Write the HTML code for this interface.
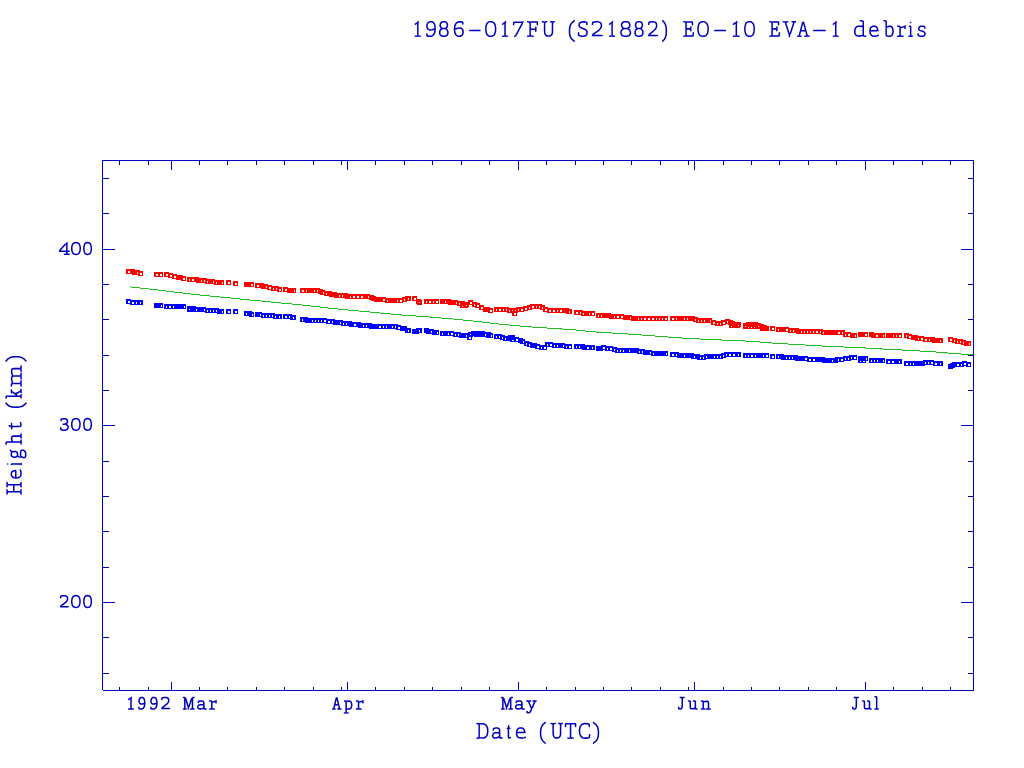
<!DOCTYPE html>
<html><head><meta charset="utf-8"><style>
html,body{margin:0;padding:0;background:#fff;}
svg{display:block;}
</style></head><body>
<svg width="1024" height="768" viewBox="0 0 1024 768">
<rect width="1024" height="768" fill="#fff"/>
<g shape-rendering="crispEdges">
<rect x="102" y="160" width="1" height="530" fill="#0000c0"/>
<rect x="973" y="160" width="1" height="531" fill="#0000c0"/>
<rect x="102" y="160" width="872" height="1" fill="#0000c0"/>
<rect x="103" y="690" width="871" height="1" fill="#0000c0"/>
<rect x="119" y="687" width="1" height="3" fill="#0000c0"/>
<rect x="119" y="161" width="1" height="4" fill="#0000c0"/>
<rect x="148" y="687" width="1" height="3" fill="#0000c0"/>
<rect x="148" y="161" width="1" height="4" fill="#0000c0"/>
<rect x="171" y="682" width="1" height="8" fill="#0000c0"/>
<rect x="171" y="161" width="1" height="9" fill="#0000c0"/>
<rect x="199" y="687" width="1" height="3" fill="#0000c0"/>
<rect x="199" y="161" width="1" height="4" fill="#0000c0"/>
<rect x="227" y="687" width="1" height="3" fill="#0000c0"/>
<rect x="227" y="161" width="1" height="4" fill="#0000c0"/>
<rect x="256" y="687" width="1" height="3" fill="#0000c0"/>
<rect x="256" y="161" width="1" height="4" fill="#0000c0"/>
<rect x="284" y="687" width="1" height="3" fill="#0000c0"/>
<rect x="284" y="161" width="1" height="4" fill="#0000c0"/>
<rect x="313" y="687" width="1" height="3" fill="#0000c0"/>
<rect x="313" y="161" width="1" height="4" fill="#0000c0"/>
<rect x="341" y="687" width="1" height="3" fill="#0000c0"/>
<rect x="341" y="161" width="1" height="4" fill="#0000c0"/>
<rect x="347" y="682" width="1" height="8" fill="#0000c0"/>
<rect x="347" y="161" width="1" height="9" fill="#0000c0"/>
<rect x="375" y="687" width="1" height="3" fill="#0000c0"/>
<rect x="375" y="161" width="1" height="4" fill="#0000c0"/>
<rect x="404" y="687" width="1" height="3" fill="#0000c0"/>
<rect x="404" y="161" width="1" height="4" fill="#0000c0"/>
<rect x="432" y="687" width="1" height="3" fill="#0000c0"/>
<rect x="432" y="161" width="1" height="4" fill="#0000c0"/>
<rect x="461" y="687" width="1" height="3" fill="#0000c0"/>
<rect x="461" y="161" width="1" height="4" fill="#0000c0"/>
<rect x="489" y="687" width="1" height="3" fill="#0000c0"/>
<rect x="489" y="161" width="1" height="4" fill="#0000c0"/>
<rect x="518" y="682" width="1" height="8" fill="#0000c0"/>
<rect x="518" y="161" width="1" height="9" fill="#0000c0"/>
<rect x="546" y="687" width="1" height="3" fill="#0000c0"/>
<rect x="546" y="161" width="1" height="4" fill="#0000c0"/>
<rect x="575" y="687" width="1" height="3" fill="#0000c0"/>
<rect x="575" y="161" width="1" height="4" fill="#0000c0"/>
<rect x="603" y="687" width="1" height="3" fill="#0000c0"/>
<rect x="603" y="161" width="1" height="4" fill="#0000c0"/>
<rect x="631" y="687" width="1" height="3" fill="#0000c0"/>
<rect x="631" y="161" width="1" height="4" fill="#0000c0"/>
<rect x="660" y="687" width="1" height="3" fill="#0000c0"/>
<rect x="660" y="161" width="1" height="4" fill="#0000c0"/>
<rect x="688" y="687" width="1" height="3" fill="#0000c0"/>
<rect x="688" y="161" width="1" height="4" fill="#0000c0"/>
<rect x="694" y="682" width="1" height="8" fill="#0000c0"/>
<rect x="694" y="161" width="1" height="9" fill="#0000c0"/>
<rect x="723" y="687" width="1" height="3" fill="#0000c0"/>
<rect x="723" y="161" width="1" height="4" fill="#0000c0"/>
<rect x="751" y="687" width="1" height="3" fill="#0000c0"/>
<rect x="751" y="161" width="1" height="4" fill="#0000c0"/>
<rect x="779" y="687" width="1" height="3" fill="#0000c0"/>
<rect x="779" y="161" width="1" height="4" fill="#0000c0"/>
<rect x="808" y="687" width="1" height="3" fill="#0000c0"/>
<rect x="808" y="161" width="1" height="4" fill="#0000c0"/>
<rect x="836" y="687" width="1" height="3" fill="#0000c0"/>
<rect x="836" y="161" width="1" height="4" fill="#0000c0"/>
<rect x="865" y="682" width="1" height="8" fill="#0000c0"/>
<rect x="865" y="161" width="1" height="9" fill="#0000c0"/>
<rect x="893" y="687" width="1" height="3" fill="#0000c0"/>
<rect x="893" y="161" width="1" height="4" fill="#0000c0"/>
<rect x="922" y="687" width="1" height="3" fill="#0000c0"/>
<rect x="922" y="161" width="1" height="4" fill="#0000c0"/>
<rect x="950" y="687" width="1" height="3" fill="#0000c0"/>
<rect x="950" y="161" width="1" height="4" fill="#0000c0"/>
<rect x="103" y="673" width="6" height="1" fill="#0000c0"/>
<rect x="968" y="673" width="5" height="1" fill="#0000c0"/>
<rect x="103" y="637" width="6" height="1" fill="#0000c0"/>
<rect x="968" y="637" width="5" height="1" fill="#0000c0"/>
<rect x="103" y="602" width="12" height="1" fill="#0000c0"/>
<rect x="961" y="602" width="12" height="1" fill="#0000c0"/>
<rect x="103" y="567" width="6" height="1" fill="#0000c0"/>
<rect x="968" y="567" width="5" height="1" fill="#0000c0"/>
<rect x="103" y="531" width="6" height="1" fill="#0000c0"/>
<rect x="968" y="531" width="5" height="1" fill="#0000c0"/>
<rect x="103" y="496" width="6" height="1" fill="#0000c0"/>
<rect x="968" y="496" width="5" height="1" fill="#0000c0"/>
<rect x="103" y="461" width="6" height="1" fill="#0000c0"/>
<rect x="968" y="461" width="5" height="1" fill="#0000c0"/>
<rect x="103" y="425" width="12" height="1" fill="#0000c0"/>
<rect x="961" y="425" width="12" height="1" fill="#0000c0"/>
<rect x="103" y="390" width="6" height="1" fill="#0000c0"/>
<rect x="968" y="390" width="5" height="1" fill="#0000c0"/>
<rect x="103" y="355" width="6" height="1" fill="#0000c0"/>
<rect x="968" y="355" width="5" height="1" fill="#0000c0"/>
<rect x="103" y="319" width="6" height="1" fill="#0000c0"/>
<rect x="968" y="319" width="5" height="1" fill="#0000c0"/>
<rect x="103" y="284" width="6" height="1" fill="#0000c0"/>
<rect x="968" y="284" width="5" height="1" fill="#0000c0"/>
<rect x="103" y="249" width="12" height="1" fill="#0000c0"/>
<rect x="961" y="249" width="12" height="1" fill="#0000c0"/>
<rect x="103" y="213" width="6" height="1" fill="#0000c0"/>
<rect x="968" y="213" width="5" height="1" fill="#0000c0"/>
<rect x="103" y="178" width="6" height="1" fill="#0000c0"/>
<rect x="968" y="178" width="5" height="1" fill="#0000c0"/>
</g>
<g fill="#20c020" shape-rendering="crispEdges"><rect x="130" y="286" width="1" height="1"/><rect x="131" y="287" width="9" height="1"/><rect x="140" y="288" width="9" height="1"/><rect x="149" y="289" width="9" height="1"/><rect x="158" y="290" width="8" height="1"/><rect x="166" y="291" width="8" height="1"/><rect x="174" y="292" width="9" height="1"/><rect x="183" y="293" width="8" height="1"/><rect x="191" y="294" width="9" height="1"/><rect x="200" y="295" width="10" height="1"/><rect x="210" y="296" width="10" height="1"/><rect x="220" y="297" width="11" height="1"/><rect x="231" y="298" width="9" height="1"/><rect x="240" y="299" width="10" height="1"/><rect x="250" y="300" width="11" height="1"/><rect x="261" y="301" width="10" height="1"/><rect x="271" y="302" width="10" height="1"/><rect x="281" y="303" width="11" height="1"/><rect x="292" y="304" width="10" height="1"/><rect x="302" y="305" width="9" height="1"/><rect x="311" y="306" width="9" height="1"/><rect x="320" y="307" width="8" height="1"/><rect x="328" y="308" width="10" height="1"/><rect x="338" y="309" width="10" height="1"/><rect x="348" y="310" width="11" height="1"/><rect x="359" y="311" width="11" height="1"/><rect x="370" y="312" width="10" height="1"/><rect x="380" y="313" width="11" height="1"/><rect x="391" y="314" width="11" height="1"/><rect x="402" y="315" width="14" height="1"/><rect x="416" y="316" width="13" height="1"/><rect x="429" y="317" width="12" height="1"/><rect x="441" y="318" width="12" height="1"/><rect x="453" y="319" width="10" height="1"/><rect x="463" y="320" width="10" height="1"/><rect x="473" y="321" width="9" height="1"/><rect x="482" y="322" width="8" height="1"/><rect x="490" y="323" width="9" height="1"/><rect x="499" y="324" width="10" height="1"/><rect x="509" y="325" width="11" height="1"/><rect x="520" y="326" width="12" height="1"/><rect x="532" y="327" width="15" height="1"/><rect x="547" y="328" width="16" height="1"/><rect x="563" y="329" width="13" height="1"/><rect x="576" y="330" width="9" height="1"/><rect x="585" y="331" width="11" height="1"/><rect x="596" y="332" width="16" height="1"/><rect x="612" y="333" width="16" height="1"/><rect x="628" y="334" width="14" height="1"/><rect x="642" y="335" width="13" height="1"/><rect x="655" y="336" width="13" height="1"/><rect x="668" y="337" width="14" height="1"/><rect x="682" y="338" width="18" height="1"/><rect x="700" y="339" width="22" height="1"/><rect x="722" y="340" width="23" height="1"/><rect x="745" y="341" width="15" height="1"/><rect x="760" y="342" width="12" height="1"/><rect x="772" y="343" width="16" height="1"/><rect x="788" y="344" width="17" height="1"/><rect x="805" y="345" width="17" height="1"/><rect x="822" y="346" width="22" height="1"/><rect x="844" y="347" width="22" height="1"/><rect x="866" y="348" width="17" height="1"/><rect x="883" y="349" width="19" height="1"/><rect x="902" y="350" width="18" height="1"/><rect x="920" y="351" width="16" height="1"/><rect x="936" y="352" width="12" height="1"/><rect x="948" y="353" width="13" height="1"/><rect x="961" y="354" width="12" height="1"/></g>
<g shape-rendering="crispEdges">
<g fill="#ff0000" fill-rule="evenodd"><path d="M126,269h5v5h-5zM128,271v2h2v-2z"/><path d="M130,269h5v5h-5zM132,271v2h2v-2z"/><path d="M132,270h5v5h-5zM134,272v2h2v-2z"/><path d="M135,270h5v5h-5zM137,272v2h2v-2z"/><path d="M138,271h5v5h-5zM140,273v2h2v-2z"/><path d="M154,272h5v5h-5zM156,274v2h2v-2z"/><path d="M158,272h5v5h-5zM160,274v2h2v-2z"/><path d="M164,272h5v5h-5zM166,274v2h2v-2z"/><path d="M168,273h5v5h-5zM170,275v2h2v-2z"/><path d="M172,274h5v5h-5zM174,276v2h2v-2z"/><path d="M176,275h5v5h-5zM178,277v2h2v-2z"/><path d="M178,275h5v5h-5zM180,277v2h2v-2z"/><path d="M181,276h5v5h-5zM183,278v2h2v-2z"/><path d="M187,277h5v5h-5zM189,279v2h2v-2z"/><path d="M190,277h5v5h-5zM192,279v2h2v-2z"/><path d="M194,277h5v5h-5zM196,279v2h2v-2z"/><path d="M196,278h5v5h-5zM198,280v2h2v-2z"/><path d="M199,278h5v5h-5zM201,280v2h2v-2z"/><path d="M202,278h5v5h-5zM204,280v2h2v-2z"/><path d="M205,279h5v5h-5zM207,281v2h2v-2z"/><path d="M208,279h5v5h-5zM210,281v2h2v-2z"/><path d="M210,279h5v5h-5zM212,281v2h2v-2z"/><path d="M214,280h5v5h-5zM216,282v2h2v-2z"/><path d="M217,280h5v5h-5zM219,282v2h2v-2z"/><path d="M219,280h5v5h-5zM221,282v2h2v-2z"/><path d="M226,280h5v5h-5zM228,282v2h2v-2z"/><path d="M233,281h5v5h-5zM235,283v2h2v-2z"/><path d="M244,282h5v5h-5zM246,284v2h2v-2z"/><path d="M246,282h5v5h-5zM248,284v2h2v-2z"/><path d="M249,282h5v5h-5zM251,284v2h2v-2z"/><path d="M255,283h5v5h-5zM257,285v2h2v-2z"/><path d="M259,283h5v5h-5zM261,285v2h2v-2z"/><path d="M261,284h5v5h-5zM263,286v2h2v-2z"/><path d="M263,284h5v5h-5zM265,286v2h2v-2z"/><path d="M267,285h5v5h-5zM269,287v2h2v-2z"/><path d="M271,286h5v5h-5zM273,288v2h2v-2z"/><path d="M274,286h5v5h-5zM276,288v2h2v-2z"/><path d="M277,287h5v5h-5zM279,289v2h2v-2z"/><path d="M283,287h5v5h-5zM285,289v2h2v-2z"/><path d="M287,288h5v5h-5zM289,290v2h2v-2z"/><path d="M289,288h5v5h-5zM291,290v2h2v-2z"/><path d="M291,288h5v5h-5zM293,290v2h2v-2z"/><path d="M300,288h5v5h-5zM302,290v2h2v-2z"/><path d="M304,288h5v5h-5zM306,290v2h2v-2z"/><path d="M307,288h5v5h-5zM309,290v2h2v-2z"/><path d="M309,288h5v5h-5zM311,290v2h2v-2z"/><path d="M311,288h5v5h-5zM313,290v2h2v-2z"/><path d="M315,288h5v5h-5zM317,290v2h2v-2z"/><path d="M318,289h5v5h-5zM320,291v2h2v-2z"/><path d="M320,290h5v5h-5zM322,292v2h2v-2z"/><path d="M324,291h5v5h-5zM326,293v2h2v-2z"/><path d="M327,291h5v5h-5zM329,293v2h2v-2z"/><path d="M329,292h5v5h-5zM331,294v2h2v-2z"/><path d="M332,292h5v5h-5zM334,294v2h2v-2z"/><path d="M334,293h5v5h-5zM336,295v2h2v-2z"/><path d="M337,293h5v5h-5zM339,295v2h2v-2z"/><path d="M340,293h5v5h-5zM342,295v2h2v-2z"/><path d="M343,293h5v5h-5zM345,295v2h2v-2z"/><path d="M345,294h5v5h-5zM347,296v2h2v-2z"/><path d="M348,294h5v5h-5zM350,296v2h2v-2z"/><path d="M351,294h5v5h-5zM353,296v2h2v-2z"/><path d="M355,294h5v5h-5zM357,296v2h2v-2z"/><path d="M359,294h5v5h-5zM361,296v2h2v-2z"/><path d="M363,294h5v5h-5zM365,296v2h2v-2z"/><path d="M365,294h5v5h-5zM367,296v2h2v-2z"/><path d="M369,295h5v5h-5zM371,297v2h2v-2z"/><path d="M371,296h5v5h-5zM373,298v2h2v-2z"/><path d="M374,297h5v5h-5zM376,299v2h2v-2z"/><path d="M376,297h5v5h-5zM378,299v2h2v-2z"/><path d="M378,297h5v5h-5zM380,299v2h2v-2z"/><path d="M381,297h5v5h-5zM383,299v2h2v-2z"/><path d="M385,298h5v5h-5zM387,300v2h2v-2z"/><path d="M388,298h5v5h-5zM390,300v2h2v-2z"/><path d="M390,298h5v5h-5zM392,300v2h2v-2z"/><path d="M392,298h5v5h-5zM394,300v2h2v-2z"/><path d="M394,298h5v5h-5zM396,300v2h2v-2z"/><path d="M398,298h5v5h-5zM400,300v2h2v-2z"/><path d="M402,297h5v5h-5zM404,299v2h2v-2z"/><path d="M405,296h5v5h-5zM407,298v2h2v-2z"/><path d="M406,296h5v5h-5zM408,298v2h2v-2z"/><path d="M412,296h5v5h-5zM414,298v2h2v-2z"/><path d="M416,299h5v5h-5zM418,301v2h2v-2z"/><path d="M417,300h5v5h-5zM419,302v2h2v-2z"/><path d="M424,299h5v5h-5zM426,301v2h2v-2z"/><path d="M427,299h5v5h-5zM429,301v2h2v-2z"/><path d="M431,299h5v5h-5zM433,301v2h2v-2z"/><path d="M434,299h5v5h-5zM436,301v2h2v-2z"/><path d="M440,299h5v5h-5zM442,301v2h2v-2z"/><path d="M442,299h5v5h-5zM444,301v2h2v-2z"/><path d="M446,299h5v5h-5zM448,301v2h2v-2z"/><path d="M448,300h5v5h-5zM450,302v2h2v-2z"/><path d="M451,300h5v5h-5zM453,302v2h2v-2z"/><path d="M453,300h5v5h-5zM455,302v2h2v-2z"/><path d="M457,301h5v5h-5zM459,303v2h2v-2z"/><path d="M460,301h5v5h-5zM462,303v2h2v-2z"/><path d="M464,302h5v5h-5zM466,304v2h2v-2z"/><path d="M468,300h5v5h-5zM470,302v2h2v-2z"/><path d="M472,302h5v5h-5zM474,304v2h2v-2z"/><path d="M475,303h5v5h-5zM477,305v2h2v-2z"/><path d="M479,305h5v5h-5zM481,307v2h2v-2z"/><path d="M483,307h5v5h-5zM485,309v2h2v-2z"/><path d="M485,307h5v5h-5zM487,309v2h2v-2z"/><path d="M488,308h5v5h-5zM490,310v2h2v-2z"/><path d="M494,307h5v5h-5zM496,309v2h2v-2z"/><path d="M497,307h5v5h-5zM499,309v2h2v-2z"/><path d="M501,307h5v5h-5zM503,309v2h2v-2z"/><path d="M504,307h5v5h-5zM506,309v2h2v-2z"/><path d="M507,308h5v5h-5zM509,310v2h2v-2z"/><path d="M510,308h5v5h-5zM512,310v2h2v-2z"/><path d="M513,308h5v5h-5zM515,310v2h2v-2z"/><path d="M516,307h5v5h-5zM518,309v2h2v-2z"/><path d="M519,307h5v5h-5zM521,309v2h2v-2z"/><path d="M523,306h5v5h-5zM525,308v2h2v-2z"/><path d="M527,305h5v5h-5zM529,307v2h2v-2z"/><path d="M530,304h5v5h-5zM532,306v2h2v-2z"/><path d="M534,304h5v5h-5zM536,306v2h2v-2z"/><path d="M537,304h5v5h-5zM539,306v2h2v-2z"/><path d="M540,305h5v5h-5zM542,307v2h2v-2z"/><path d="M543,307h5v5h-5zM545,309v2h2v-2z"/><path d="M547,308h5v5h-5zM549,310v2h2v-2z"/><path d="M551,308h5v5h-5zM553,310v2h2v-2z"/><path d="M555,308h5v5h-5zM557,310v2h2v-2z"/><path d="M558,308h5v5h-5zM560,310v2h2v-2z"/><path d="M562,308h5v5h-5zM564,310v2h2v-2z"/><path d="M564,308h5v5h-5zM566,310v2h2v-2z"/><path d="M566,309h5v5h-5zM568,311v2h2v-2z"/><path d="M567,309h5v5h-5zM569,311v2h2v-2z"/><path d="M574,310h5v5h-5zM576,312v2h2v-2z"/><path d="M578,310h5v5h-5zM580,312v2h2v-2z"/><path d="M581,311h5v5h-5zM583,313v2h2v-2z"/><path d="M584,311h5v5h-5zM586,313v2h2v-2z"/><path d="M586,311h5v5h-5zM588,313v2h2v-2z"/><path d="M590,311h5v5h-5zM592,313v2h2v-2z"/><path d="M596,313h5v5h-5zM598,315v2h2v-2z"/><path d="M599,313h5v5h-5zM601,315v2h2v-2z"/><path d="M602,313h5v5h-5zM604,315v2h2v-2z"/><path d="M604,313h5v5h-5zM606,315v2h2v-2z"/><path d="M606,313h5v5h-5zM608,315v2h2v-2z"/><path d="M609,314h5v5h-5zM611,316v2h2v-2z"/><path d="M611,314h5v5h-5zM613,316v2h2v-2z"/><path d="M615,314h5v5h-5zM617,316v2h2v-2z"/><path d="M619,314h5v5h-5zM621,316v2h2v-2z"/><path d="M623,315h5v5h-5zM625,317v2h2v-2z"/><path d="M625,315h5v5h-5zM627,317v2h2v-2z"/><path d="M627,315h5v5h-5zM629,317v2h2v-2z"/><path d="M631,316h5v5h-5zM633,318v2h2v-2z"/><path d="M633,316h5v5h-5zM635,318v2h2v-2z"/><path d="M636,316h5v5h-5zM638,318v2h2v-2z"/><path d="M639,316h5v5h-5zM641,318v2h2v-2z"/><path d="M642,316h5v5h-5zM644,318v2h2v-2z"/><path d="M646,316h5v5h-5zM648,318v2h2v-2z"/><path d="M650,316h5v5h-5zM652,318v2h2v-2z"/><path d="M654,316h5v5h-5zM656,318v2h2v-2z"/><path d="M657,316h5v5h-5zM659,318v2h2v-2z"/><path d="M660,316h5v5h-5zM662,318v2h2v-2z"/><path d="M663,316h5v5h-5zM665,318v2h2v-2z"/><path d="M670,316h5v5h-5zM672,318v2h2v-2z"/><path d="M674,316h5v5h-5zM676,318v2h2v-2z"/><path d="M677,316h5v5h-5zM679,318v2h2v-2z"/><path d="M679,316h5v5h-5zM681,318v2h2v-2z"/><path d="M681,316h5v5h-5zM683,318v2h2v-2z"/><path d="M685,316h5v5h-5zM687,318v2h2v-2z"/><path d="M688,316h5v5h-5zM690,318v2h2v-2z"/><path d="M690,316h5v5h-5zM692,318v2h2v-2z"/><path d="M693,317h5v5h-5zM695,319v2h2v-2z"/><path d="M696,318h5v5h-5zM698,320v2h2v-2z"/><path d="M699,318h5v5h-5zM701,320v2h2v-2z"/><path d="M702,318h5v5h-5zM704,320v2h2v-2z"/><path d="M705,318h5v5h-5zM707,320v2h2v-2z"/><path d="M707,318h5v5h-5zM709,320v2h2v-2z"/><path d="M711,320h5v5h-5zM713,322v2h2v-2z"/><path d="M715,321h5v5h-5zM717,323v2h2v-2z"/><path d="M718,321h5v5h-5zM720,323v2h2v-2z"/><path d="M721,320h5v5h-5zM723,322v2h2v-2z"/><path d="M725,319h5v5h-5zM727,321v2h2v-2z"/><path d="M728,320h5v5h-5zM730,322v2h2v-2z"/><path d="M730,321h5v5h-5zM732,323v2h2v-2z"/><path d="M732,322h5v5h-5zM734,324v2h2v-2z"/><path d="M735,322h5v5h-5zM737,324v2h2v-2z"/><path d="M736,322h5v5h-5zM738,324v2h2v-2z"/><path d="M743,323h5v5h-5zM745,325v2h2v-2z"/><path d="M746,322h5v5h-5zM748,324v2h2v-2z"/><path d="M749,322h5v5h-5zM751,324v2h2v-2z"/><path d="M751,322h5v5h-5zM753,324v2h2v-2z"/><path d="M753,322h5v5h-5zM755,324v2h2v-2z"/><path d="M756,323h5v5h-5zM758,325v2h2v-2z"/><path d="M759,324h5v5h-5zM761,326v2h2v-2z"/><path d="M762,325h5v5h-5zM764,327v2h2v-2z"/><path d="M764,326h5v5h-5zM766,328v2h2v-2z"/><path d="M770,326h5v5h-5zM772,328v2h2v-2z"/><path d="M776,327h5v5h-5zM778,329v2h2v-2z"/><path d="M779,327h5v5h-5zM781,329v2h2v-2z"/><path d="M781,327h5v5h-5zM783,329v2h2v-2z"/><path d="M784,327h5v5h-5zM786,329v2h2v-2z"/><path d="M788,328h5v5h-5zM790,330v2h2v-2z"/><path d="M791,328h5v5h-5zM793,330v2h2v-2z"/><path d="M794,328h5v5h-5zM796,330v2h2v-2z"/><path d="M796,329h5v5h-5zM798,331v2h2v-2z"/><path d="M799,329h5v5h-5zM801,331v2h2v-2z"/><path d="M802,329h5v5h-5zM804,331v2h2v-2z"/><path d="M805,329h5v5h-5zM807,331v2h2v-2z"/><path d="M808,329h5v5h-5zM810,331v2h2v-2z"/><path d="M811,329h5v5h-5zM813,331v2h2v-2z"/><path d="M814,329h5v5h-5zM816,331v2h2v-2z"/><path d="M818,329h5v5h-5zM820,331v2h2v-2z"/><path d="M821,330h5v5h-5zM823,332v2h2v-2z"/><path d="M824,330h5v5h-5zM826,332v2h2v-2z"/><path d="M826,330h5v5h-5zM828,332v2h2v-2z"/><path d="M829,330h5v5h-5zM831,332v2h2v-2z"/><path d="M831,330h5v5h-5zM833,332v2h2v-2z"/><path d="M833,330h5v5h-5zM835,332v2h2v-2z"/><path d="M836,330h5v5h-5zM838,332v2h2v-2z"/><path d="M840,330h5v5h-5zM842,332v2h2v-2z"/><path d="M843,332h5v5h-5zM845,334v2h2v-2z"/><path d="M846,332h5v5h-5zM848,334v2h2v-2z"/><path d="M850,333h5v5h-5zM852,335v2h2v-2z"/><path d="M852,333h5v5h-5zM854,335v2h2v-2z"/><path d="M858,332h5v5h-5zM860,334v2h2v-2z"/><path d="M860,332h5v5h-5zM862,334v2h2v-2z"/><path d="M863,332h5v5h-5zM865,334v2h2v-2z"/><path d="M869,332h5v5h-5zM871,334v2h2v-2z"/><path d="M871,333h5v5h-5zM873,335v2h2v-2z"/><path d="M874,333h5v5h-5zM876,335v2h2v-2z"/><path d="M878,333h5v5h-5zM880,335v2h2v-2z"/><path d="M880,333h5v5h-5zM882,335v2h2v-2z"/><path d="M886,333h5v5h-5zM888,335v2h2v-2z"/><path d="M888,333h5v5h-5zM890,335v2h2v-2z"/><path d="M891,333h5v5h-5zM893,335v2h2v-2z"/><path d="M894,333h5v5h-5zM896,335v2h2v-2z"/><path d="M897,333h5v5h-5zM899,335v2h2v-2z"/><path d="M904,333h5v5h-5zM906,335v2h2v-2z"/><path d="M907,334h5v5h-5zM909,336v2h2v-2z"/><path d="M911,335h5v5h-5zM913,337v2h2v-2z"/><path d="M913,335h5v5h-5zM915,337v2h2v-2z"/><path d="M915,336h5v5h-5zM917,338v2h2v-2z"/><path d="M919,336h5v5h-5zM921,338v2h2v-2z"/><path d="M923,337h5v5h-5zM925,339v2h2v-2z"/><path d="M927,337h5v5h-5zM929,339v2h2v-2z"/><path d="M930,337h5v5h-5zM932,339v2h2v-2z"/><path d="M932,338h5v5h-5zM934,340v2h2v-2z"/><path d="M934,338h5v5h-5zM936,340v2h2v-2z"/><path d="M937,338h5v5h-5zM939,340v2h2v-2z"/><path d="M938,338h5v5h-5zM940,340v2h2v-2z"/><path d="M948,337h5v5h-5zM950,339v2h2v-2z"/><path d="M952,338h5v5h-5zM954,340v2h2v-2z"/><path d="M955,339h5v5h-5zM957,341v2h2v-2z"/><path d="M958,339h5v5h-5zM960,341v2h2v-2z"/><path d="M961,340h5v5h-5zM963,342v2h2v-2z"/><path d="M964,341h5v5h-5zM966,343v2h2v-2z"/><path d="M966,341h5v5h-5zM968,343v2h2v-2z"/></g><g fill="#ff0000" fill-rule="evenodd"><path d="M460,303h5v5h-5zM462,305v2h2v-2z"/><path d="M463,303h5v5h-5zM465,305v2h2v-2z"/><path d="M512,311h5v5h-5zM514,313v2h2v-2z"/><path d="M729,323h5v5h-5zM731,325v2h2v-2z"/><path d="M732,323h5v5h-5zM734,325v2h2v-2z"/><path d="M735,323h5v5h-5zM737,325v2h2v-2z"/><path d="M743,324h5v5h-5zM745,326v2h2v-2z"/><path d="M746,324h5v5h-5zM748,326v2h2v-2z"/><path d="M749,324h5v5h-5zM751,326v2h2v-2z"/><path d="M752,324h5v5h-5zM754,326v2h2v-2z"/><path d="M755,324h5v5h-5zM757,326v2h2v-2z"/><path d="M760,326h5v5h-5zM762,328v2h2v-2z"/><path d="M763,326h5v5h-5zM765,328v2h2v-2z"/></g>
<g fill="#0000ff" fill-rule="evenodd"><path d="M126,299h5v5h-5zM128,301v2h2v-2z"/><path d="M130,300h5v5h-5zM132,302v2h2v-2z"/><path d="M134,300h5v5h-5zM136,302v2h2v-2z"/><path d="M137,300h5v5h-5zM139,302v2h2v-2z"/><path d="M138,300h5v5h-5zM140,302v2h2v-2z"/><path d="M154,303h5v5h-5zM156,305v2h2v-2z"/><path d="M156,303h5v5h-5zM158,305v2h2v-2z"/><path d="M158,303h5v5h-5zM160,305v2h2v-2z"/><path d="M164,304h5v5h-5zM166,306v2h2v-2z"/><path d="M167,304h5v5h-5zM169,306v2h2v-2z"/><path d="M171,304h5v5h-5zM173,306v2h2v-2z"/><path d="M174,304h5v5h-5zM176,306v2h2v-2z"/><path d="M176,304h5v5h-5zM178,306v2h2v-2z"/><path d="M179,304h5v5h-5zM181,306v2h2v-2z"/><path d="M181,304h5v5h-5zM183,306v2h2v-2z"/><path d="M187,306h5v5h-5zM189,308v2h2v-2z"/><path d="M191,306h5v5h-5zM193,308v2h2v-2z"/><path d="M194,307h5v5h-5zM196,309v2h2v-2z"/><path d="M197,307h5v5h-5zM199,309v2h2v-2z"/><path d="M199,307h5v5h-5zM201,309v2h2v-2z"/><path d="M201,307h5v5h-5zM203,309v2h2v-2z"/><path d="M205,308h5v5h-5zM207,310v2h2v-2z"/><path d="M208,308h5v5h-5zM210,310v2h2v-2z"/><path d="M211,308h5v5h-5zM213,310v2h2v-2z"/><path d="M214,308h5v5h-5zM216,310v2h2v-2z"/><path d="M217,309h5v5h-5zM219,311v2h2v-2z"/><path d="M219,309h5v5h-5zM221,311v2h2v-2z"/><path d="M226,309h5v5h-5zM228,311v2h2v-2z"/><path d="M233,309h5v5h-5zM235,311v2h2v-2z"/><path d="M244,311h5v5h-5zM246,313v2h2v-2z"/><path d="M247,311h5v5h-5zM249,313v2h2v-2z"/><path d="M249,312h5v5h-5zM251,314v2h2v-2z"/><path d="M255,312h5v5h-5zM257,314v2h2v-2z"/><path d="M257,312h5v5h-5zM259,314v2h2v-2z"/><path d="M261,313h5v5h-5zM263,315v2h2v-2z"/><path d="M264,313h5v5h-5zM266,315v2h2v-2z"/><path d="M267,313h5v5h-5zM269,315v2h2v-2z"/><path d="M270,313h5v5h-5zM272,315v2h2v-2z"/><path d="M273,314h5v5h-5zM275,316v2h2v-2z"/><path d="M276,314h5v5h-5zM278,316v2h2v-2z"/><path d="M277,314h5v5h-5zM279,316v2h2v-2z"/><path d="M283,314h5v5h-5zM285,316v2h2v-2z"/><path d="M287,314h5v5h-5zM289,316v2h2v-2z"/><path d="M290,315h5v5h-5zM292,317v2h2v-2z"/><path d="M291,315h5v5h-5zM293,317v2h2v-2z"/><path d="M300,317h5v5h-5zM302,319v2h2v-2z"/><path d="M303,317h5v5h-5zM305,319v2h2v-2z"/><path d="M305,318h5v5h-5zM307,320v2h2v-2z"/><path d="M307,318h5v5h-5zM309,320v2h2v-2z"/><path d="M310,318h5v5h-5zM312,320v2h2v-2z"/><path d="M313,318h5v5h-5zM315,320v2h2v-2z"/><path d="M316,318h5v5h-5zM318,320v2h2v-2z"/><path d="M319,318h5v5h-5zM321,320v2h2v-2z"/><path d="M322,318h5v5h-5zM324,320v2h2v-2z"/><path d="M326,319h5v5h-5zM328,321v2h2v-2z"/><path d="M330,319h5v5h-5zM332,321v2h2v-2z"/><path d="M333,320h5v5h-5zM335,322v2h2v-2z"/><path d="M335,320h5v5h-5zM337,322v2h2v-2z"/><path d="M338,320h5v5h-5zM340,322v2h2v-2z"/><path d="M341,321h5v5h-5zM343,323v2h2v-2z"/><path d="M344,321h5v5h-5zM346,323v2h2v-2z"/><path d="M347,321h5v5h-5zM349,323v2h2v-2z"/><path d="M349,322h5v5h-5zM351,324v2h2v-2z"/><path d="M352,322h5v5h-5zM354,324v2h2v-2z"/><path d="M356,322h5v5h-5zM358,324v2h2v-2z"/><path d="M358,323h5v5h-5zM360,325v2h2v-2z"/><path d="M360,323h5v5h-5zM362,325v2h2v-2z"/><path d="M364,323h5v5h-5zM366,325v2h2v-2z"/><path d="M367,323h5v5h-5zM369,325v2h2v-2z"/><path d="M369,324h5v5h-5zM371,326v2h2v-2z"/><path d="M372,324h5v5h-5zM374,326v2h2v-2z"/><path d="M374,324h5v5h-5zM376,326v2h2v-2z"/><path d="M377,324h5v5h-5zM379,326v2h2v-2z"/><path d="M381,324h5v5h-5zM383,326v2h2v-2z"/><path d="M384,324h5v5h-5zM386,326v2h2v-2z"/><path d="M387,324h5v5h-5zM389,326v2h2v-2z"/><path d="M389,324h5v5h-5zM391,326v2h2v-2z"/><path d="M393,324h5v5h-5zM395,326v2h2v-2z"/><path d="M396,325h5v5h-5zM398,327v2h2v-2z"/><path d="M400,326h5v5h-5zM402,328v2h2v-2z"/><path d="M402,326h5v5h-5zM404,328v2h2v-2z"/><path d="M405,328h5v5h-5zM407,330v2h2v-2z"/><path d="M406,328h5v5h-5zM408,330v2h2v-2z"/><path d="M412,329h5v5h-5zM414,331v2h2v-2z"/><path d="M414,329h5v5h-5zM416,331v2h2v-2z"/><path d="M416,328h5v5h-5zM418,330v2h2v-2z"/><path d="M417,328h5v5h-5zM419,330v2h2v-2z"/><path d="M424,328h5v5h-5zM426,330v2h2v-2z"/><path d="M426,329h5v5h-5zM428,331v2h2v-2z"/><path d="M429,329h5v5h-5zM431,331v2h2v-2z"/><path d="M432,330h5v5h-5zM434,332v2h2v-2z"/><path d="M434,330h5v5h-5zM436,332v2h2v-2z"/><path d="M440,331h5v5h-5zM442,333v2h2v-2z"/><path d="M443,331h5v5h-5zM445,333v2h2v-2z"/><path d="M445,331h5v5h-5zM447,333v2h2v-2z"/><path d="M449,331h5v5h-5zM451,333v2h2v-2z"/><path d="M453,332h5v5h-5zM455,334v2h2v-2z"/><path d="M456,332h5v5h-5zM458,334v2h2v-2z"/><path d="M459,333h5v5h-5zM461,335v2h2v-2z"/><path d="M461,333h5v5h-5zM463,335v2h2v-2z"/><path d="M464,333h5v5h-5zM466,335v2h2v-2z"/><path d="M468,332h5v5h-5zM470,334v2h2v-2z"/><path d="M471,331h5v5h-5zM473,333v2h2v-2z"/><path d="M473,331h5v5h-5zM475,333v2h2v-2z"/><path d="M475,331h5v5h-5zM477,333v2h2v-2z"/><path d="M477,331h5v5h-5zM479,333v2h2v-2z"/><path d="M480,331h5v5h-5zM482,333v2h2v-2z"/><path d="M482,332h5v5h-5zM484,334v2h2v-2z"/><path d="M486,333h5v5h-5zM488,335v2h2v-2z"/><path d="M488,333h5v5h-5zM490,335v2h2v-2z"/><path d="M494,334h5v5h-5zM496,336v2h2v-2z"/><path d="M497,334h5v5h-5zM499,336v2h2v-2z"/><path d="M500,335h5v5h-5zM502,337v2h2v-2z"/><path d="M503,336h5v5h-5zM505,338v2h2v-2z"/><path d="M506,336h5v5h-5zM508,338v2h2v-2z"/><path d="M508,335h5v5h-5zM510,337v2h2v-2z"/><path d="M510,335h5v5h-5zM512,337v2h2v-2z"/><path d="M514,337h5v5h-5zM516,339v2h2v-2z"/><path d="M518,338h5v5h-5zM520,340v2h2v-2z"/><path d="M520,339h5v5h-5zM522,341v2h2v-2z"/><path d="M524,341h5v5h-5zM526,343v2h2v-2z"/><path d="M527,342h5v5h-5zM529,344v2h2v-2z"/><path d="M530,343h5v5h-5zM532,345v2h2v-2z"/><path d="M532,343h5v5h-5zM534,345v2h2v-2z"/><path d="M535,344h5v5h-5zM537,346v2h2v-2z"/><path d="M539,345h5v5h-5zM541,347v2h2v-2z"/><path d="M542,345h5v5h-5zM544,347v2h2v-2z"/><path d="M545,342h5v5h-5zM547,344v2h2v-2z"/><path d="M548,342h5v5h-5zM550,344v2h2v-2z"/><path d="M552,343h5v5h-5zM554,345v2h2v-2z"/><path d="M555,343h5v5h-5zM557,345v2h2v-2z"/><path d="M558,343h5v5h-5zM560,345v2h2v-2z"/><path d="M560,343h5v5h-5zM562,345v2h2v-2z"/><path d="M564,344h5v5h-5zM566,346v2h2v-2z"/><path d="M567,344h5v5h-5zM569,346v2h2v-2z"/><path d="M574,344h5v5h-5zM576,346v2h2v-2z"/><path d="M577,344h5v5h-5zM579,346v2h2v-2z"/><path d="M580,344h5v5h-5zM582,346v2h2v-2z"/><path d="M582,345h5v5h-5zM584,347v2h2v-2z"/><path d="M585,345h5v5h-5zM587,347v2h2v-2z"/><path d="M589,345h5v5h-5zM591,347v2h2v-2z"/><path d="M590,345h5v5h-5zM592,347v2h2v-2z"/><path d="M596,346h5v5h-5zM598,348v2h2v-2z"/><path d="M598,346h5v5h-5zM600,348v2h2v-2z"/><path d="M601,345h5v5h-5zM603,347v2h2v-2z"/><path d="M605,346h5v5h-5zM607,348v2h2v-2z"/><path d="M608,346h5v5h-5zM610,348v2h2v-2z"/><path d="M612,347h5v5h-5zM614,349v2h2v-2z"/><path d="M615,348h5v5h-5zM617,350v2h2v-2z"/><path d="M618,348h5v5h-5zM620,350v2h2v-2z"/><path d="M621,348h5v5h-5zM623,350v2h2v-2z"/><path d="M624,348h5v5h-5zM626,350v2h2v-2z"/><path d="M626,348h5v5h-5zM628,350v2h2v-2z"/><path d="M630,348h5v5h-5zM632,350v2h2v-2z"/><path d="M632,348h5v5h-5zM634,350v2h2v-2z"/><path d="M634,348h5v5h-5zM636,350v2h2v-2z"/><path d="M637,349h5v5h-5zM639,351v2h2v-2z"/><path d="M640,349h5v5h-5zM642,351v2h2v-2z"/><path d="M643,350h5v5h-5zM645,352v2h2v-2z"/><path d="M645,350h5v5h-5zM647,352v2h2v-2z"/><path d="M647,350h5v5h-5zM649,352v2h2v-2z"/><path d="M651,351h5v5h-5zM653,353v2h2v-2z"/><path d="M654,351h5v5h-5zM656,353v2h2v-2z"/><path d="M656,351h5v5h-5zM658,353v2h2v-2z"/><path d="M658,351h5v5h-5zM660,353v2h2v-2z"/><path d="M661,351h5v5h-5zM663,353v2h2v-2z"/><path d="M663,351h5v5h-5zM665,353v2h2v-2z"/><path d="M670,352h5v5h-5zM672,354v2h2v-2z"/><path d="M674,352h5v5h-5zM676,354v2h2v-2z"/><path d="M677,353h5v5h-5zM679,355v2h2v-2z"/><path d="M679,353h5v5h-5zM681,355v2h2v-2z"/><path d="M682,353h5v5h-5zM684,355v2h2v-2z"/><path d="M685,353h5v5h-5zM687,355v2h2v-2z"/><path d="M687,353h5v5h-5zM689,355v2h2v-2z"/><path d="M689,353h5v5h-5zM691,355v2h2v-2z"/><path d="M691,354h5v5h-5zM693,356v2h2v-2z"/><path d="M695,354h5v5h-5zM697,356v2h2v-2z"/><path d="M697,355h5v5h-5zM699,357v2h2v-2z"/><path d="M701,355h5v5h-5zM703,357v2h2v-2z"/><path d="M704,354h5v5h-5zM706,356v2h2v-2z"/><path d="M707,354h5v5h-5zM709,356v2h2v-2z"/><path d="M709,354h5v5h-5zM711,356v2h2v-2z"/><path d="M712,354h5v5h-5zM714,356v2h2v-2z"/><path d="M715,354h5v5h-5zM717,356v2h2v-2z"/><path d="M718,354h5v5h-5zM720,356v2h2v-2z"/><path d="M721,353h5v5h-5zM723,355v2h2v-2z"/><path d="M724,352h5v5h-5zM726,354v2h2v-2z"/><path d="M727,352h5v5h-5zM729,354v2h2v-2z"/><path d="M731,352h5v5h-5zM733,354v2h2v-2z"/><path d="M735,352h5v5h-5zM737,354v2h2v-2z"/><path d="M736,352h5v5h-5zM738,354v2h2v-2z"/><path d="M743,353h5v5h-5zM745,355v2h2v-2z"/><path d="M746,353h5v5h-5zM748,355v2h2v-2z"/><path d="M749,353h5v5h-5zM751,355v2h2v-2z"/><path d="M753,353h5v5h-5zM755,355v2h2v-2z"/><path d="M756,353h5v5h-5zM758,355v2h2v-2z"/><path d="M758,353h5v5h-5zM760,355v2h2v-2z"/><path d="M761,353h5v5h-5zM763,355v2h2v-2z"/><path d="M764,353h5v5h-5zM766,355v2h2v-2z"/><path d="M770,354h5v5h-5zM772,356v2h2v-2z"/><path d="M776,354h5v5h-5zM778,356v2h2v-2z"/><path d="M779,354h5v5h-5zM781,356v2h2v-2z"/><path d="M781,355h5v5h-5zM783,357v2h2v-2z"/><path d="M784,355h5v5h-5zM786,357v2h2v-2z"/><path d="M787,355h5v5h-5zM789,357v2h2v-2z"/><path d="M790,355h5v5h-5zM792,357v2h2v-2z"/><path d="M793,355h5v5h-5zM795,357v2h2v-2z"/><path d="M795,356h5v5h-5zM797,358v2h2v-2z"/><path d="M798,356h5v5h-5zM800,358v2h2v-2z"/><path d="M800,356h5v5h-5zM802,358v2h2v-2z"/><path d="M803,356h5v5h-5zM805,358v2h2v-2z"/><path d="M807,357h5v5h-5zM809,359v2h2v-2z"/><path d="M811,357h5v5h-5zM813,359v2h2v-2z"/><path d="M815,357h5v5h-5zM817,359v2h2v-2z"/><path d="M817,357h5v5h-5zM819,359v2h2v-2z"/><path d="M820,357h5v5h-5zM822,359v2h2v-2z"/><path d="M822,358h5v5h-5zM824,360v2h2v-2z"/><path d="M825,358h5v5h-5zM827,360v2h2v-2z"/><path d="M827,358h5v5h-5zM829,360v2h2v-2z"/><path d="M830,358h5v5h-5zM832,360v2h2v-2z"/><path d="M833,358h5v5h-5zM835,360v2h2v-2z"/><path d="M835,357h5v5h-5zM837,359v2h2v-2z"/><path d="M839,357h5v5h-5zM841,359v2h2v-2z"/><path d="M843,356h5v5h-5zM845,358v2h2v-2z"/><path d="M846,356h5v5h-5zM848,358v2h2v-2z"/><path d="M849,355h5v5h-5zM851,357v2h2v-2z"/><path d="M852,355h5v5h-5zM854,357v2h2v-2z"/><path d="M858,356h5v5h-5zM860,358v2h2v-2z"/><path d="M861,356h5v5h-5zM863,358v2h2v-2z"/><path d="M863,356h5v5h-5zM865,358v2h2v-2z"/><path d="M869,358h5v5h-5zM871,360v2h2v-2z"/><path d="M872,358h5v5h-5zM874,360v2h2v-2z"/><path d="M875,358h5v5h-5zM877,360v2h2v-2z"/><path d="M878,358h5v5h-5zM880,360v2h2v-2z"/><path d="M880,358h5v5h-5zM882,360v2h2v-2z"/><path d="M886,359h5v5h-5zM888,361v2h2v-2z"/><path d="M890,359h5v5h-5zM892,361v2h2v-2z"/><path d="M894,359h5v5h-5zM896,361v2h2v-2z"/><path d="M896,359h5v5h-5zM898,361v2h2v-2z"/><path d="M897,359h5v5h-5zM899,361v2h2v-2z"/><path d="M904,361h5v5h-5zM906,363v2h2v-2z"/><path d="M908,361h5v5h-5zM910,363v2h2v-2z"/><path d="M911,361h5v5h-5zM913,363v2h2v-2z"/><path d="M914,361h5v5h-5zM916,363v2h2v-2z"/><path d="M916,361h5v5h-5zM918,363v2h2v-2z"/><path d="M918,361h5v5h-5zM920,363v2h2v-2z"/><path d="M920,361h5v5h-5zM922,363v2h2v-2z"/><path d="M923,360h5v5h-5zM925,362v2h2v-2z"/><path d="M926,360h5v5h-5zM928,362v2h2v-2z"/><path d="M929,360h5v5h-5zM931,362v2h2v-2z"/><path d="M933,361h5v5h-5zM935,363v2h2v-2z"/><path d="M937,361h5v5h-5zM939,363v2h2v-2z"/><path d="M938,361h5v5h-5zM940,363v2h2v-2z"/><path d="M948,364h5v5h-5zM950,366v2h2v-2z"/><path d="M950,363h5v5h-5zM952,365v2h2v-2z"/><path d="M952,362h5v5h-5zM954,364v2h2v-2z"/><path d="M955,362h5v5h-5zM957,364v2h2v-2z"/><path d="M959,362h5v5h-5zM961,364v2h2v-2z"/><path d="M962,361h5v5h-5zM964,363v2h2v-2z"/><path d="M966,362h5v5h-5zM968,364v2h2v-2z"/></g><g fill="#0000ff" fill-rule="evenodd"><path d="M467,335h5v5h-5zM469,337v2h2v-2z"/><path d="M474,332h5v5h-5zM476,334v2h2v-2z"/><path d="M477,332h5v5h-5zM479,334v2h2v-2z"/><path d="M480,332h5v5h-5zM482,334v2h2v-2z"/><path d="M483,332h5v5h-5zM485,334v2h2v-2z"/><path d="M486,332h5v5h-5zM488,334v2h2v-2z"/><path d="M510,337h5v5h-5zM512,339v2h2v-2z"/><path d="M858,358h5v5h-5zM860,360v2h2v-2z"/><path d="M861,358h5v5h-5zM863,360v2h2v-2z"/><path d="M187,307h5v5h-5zM189,309v2h2v-2z"/><path d="M190,307h5v5h-5zM192,309v2h2v-2z"/><path d="M193,307h5v5h-5zM195,309v2h2v-2z"/></g>
</g>
<g stroke="#0000c0">
<path fill="none" stroke-width="1.5" stroke-linejoin="round" stroke-linecap="round" d="M418.26,21.64L417.81,23.01L417.62,22.78L416.87,23.01L415.36,24.04L415.25,24.27L415.36,24.04L416.87,23.01L417.62,22.78L417.81,23.07L417.81,35.50L417.43,36.08L415.29,36.25L417.43,36.08L417.77,35.56L418.22,36.08L420.25,36.19L418.22,36.08L417.81,35.56L417.81,23.01ZM428.48,22.38L429.65,21.86L431.07,21.75L432.43,21.98L433.48,22.67L434.29,23.81L434.84,25.48L435.09,27.25L435.09,29.26L433.73,29.32L432.43,29.77L430.27,30.00L428.85,29.72L427.80,28.97L427.06,27.60L426.87,25.65L427.37,23.70ZM431.81,21.81L429.65,21.86L428.48,22.38L427.80,23.01L427.00,24.79L426.87,26.45L427.06,27.60L427.80,28.97L428.42,29.49L429.47,29.89L431.81,29.89L433.73,29.32L435.03,29.26L434.96,31.26L434.66,32.58L433.61,34.65L432.62,35.56L431.69,36.02L430.70,36.25L429.04,36.25L427.24,35.96L426.87,35.56L426.81,34.07L427.00,35.85L429.04,36.25L431.01,36.19L432.43,35.68L433.30,34.99L434.16,33.79L434.66,32.58L435.15,29.20L434.84,25.48L434.29,23.81L433.79,23.01L432.99,22.27ZM442.02,28.57L445.58,28.57L447.39,30.29L447.95,32.30L447.83,33.61L447.20,35.05L446.33,35.79L444.70,36.25L442.83,36.25L441.21,35.79L440.34,35.05L439.90,34.19L439.65,33.04L439.77,31.38L440.59,29.72L441.71,28.97ZM441.71,22.09L442.77,21.75L444.83,21.75L445.83,22.09L446.83,22.95L447.39,24.50L447.33,25.99L446.89,27.14L445.83,28.11L445.58,28.57L442.08,28.57L440.71,27.19L440.15,25.48L440.21,24.39L440.65,23.13ZM443.64,21.69L442.77,21.75L441.71,22.09L440.96,22.72L440.40,23.70L440.15,25.48L440.46,26.68L440.90,27.42L442.02,28.51L441.71,28.97L440.59,29.72L440.02,30.63L439.65,32.01L439.65,33.04L440.02,34.47L440.96,35.62L442.15,36.14L444.08,36.31L445.95,35.96L446.95,35.33L447.70,34.07L447.95,32.30L447.39,30.29L445.58,28.57L445.83,28.11L446.76,27.31L447.14,26.62L447.45,25.30L447.14,23.58L446.58,22.67L445.83,22.09L444.83,21.75ZM454.56,28.74L456.11,28.68L458.44,28.11L460.31,28.05L461.34,28.34L462.31,29.09L463.02,30.69L463.09,32.70L462.63,34.42L462.18,35.16L461.54,35.73L459.92,36.25L458.05,36.19L457.02,35.79L456.05,34.99L455.47,34.13L454.82,32.41L454.50,30.23ZM460.83,21.81L462.31,22.09L462.70,22.32L462.83,23.93L462.70,22.32L462.50,22.15L460.05,21.75L458.31,21.92L457.15,22.44L455.98,23.53L455.21,24.90L454.69,26.68L454.50,30.23L455.02,33.04L456.05,34.99L457.02,35.79L458.05,36.19L459.41,36.31L460.57,36.14L461.54,35.73L462.18,35.16L462.83,33.90L463.15,31.72L462.89,30.23L462.31,29.09L461.34,28.34L460.63,28.11L458.44,28.11L456.11,28.68L454.56,28.74L454.69,26.68L455.47,24.33L456.44,23.01L457.15,22.44L458.57,21.86ZM469.75,30.61L479.95,30.56ZM490.64,21.69L491.74,21.75L492.70,22.04L494.32,23.35L495.28,25.59L495.65,28.23L495.43,31.67L494.69,34.01L494.03,34.99L493.29,35.62L492.11,36.14L490.86,36.31L489.24,36.14L488.28,35.73L487.32,34.93L486.37,33.04L485.85,30.23L485.92,26.91L486.73,23.99L487.25,23.13L487.99,22.44L489.24,21.86ZM490.64,21.69L489.24,21.86L487.99,22.44L487.25,23.13L486.73,23.99L485.92,26.91L485.85,30.23L486.37,33.04L487.32,34.93L488.65,35.91L489.53,36.19L490.86,36.31L492.11,36.14L493.29,35.62L494.03,34.99L494.69,34.01L495.43,31.67L495.65,28.23L495.28,25.59L494.32,23.35L492.70,22.04L491.74,21.75ZM505.48,21.64L505.05,23.01L504.88,22.78L504.17,23.01L502.76,24.04L502.65,24.27L502.76,24.04L504.17,23.01L504.88,22.78L505.05,23.07L505.05,35.50L504.70,36.08L502.69,36.25L504.70,36.08L505.02,35.56L505.44,36.08L507.35,36.19L505.44,36.08L505.05,35.56L505.05,23.01ZM523.00,21.92L522.18,22.32L514.18,22.32L513.87,22.55L513.55,24.67L513.80,22.67L514.18,22.32L522.11,22.32L522.37,22.55L522.18,23.64L515.64,35.91L514.69,36.42L515.64,35.91L522.18,23.64L522.37,22.90L522.18,22.32ZM527.65,21.81L529.56,21.92L530.14,22.55L530.14,35.39L529.50,36.08L527.70,36.25L529.50,36.08L530.09,35.45L530.83,36.08L533.16,36.19L530.83,36.08L530.14,35.39L530.14,29.32L535.65,29.26L535.81,31.26L535.70,29.14L535.91,27.31L535.65,29.26L530.19,29.26L530.14,22.61L530.72,21.98L537.29,22.09L537.40,24.73L537.24,22.04L530.72,21.98L530.14,22.55L529.56,21.92ZM542.45,21.75L544.07,21.92L544.57,22.55L544.61,31.95L544.75,33.10L545.24,34.47L546.10,35.45L546.68,35.79L547.76,36.08L549.75,35.96L550.42,35.73L551.32,35.10L552.04,34.01L552.45,32.30L552.49,22.09L552.63,21.92L554.25,21.75L552.54,22.04L550.69,21.75L552.36,21.92L552.49,22.09L552.40,32.70L552.04,34.01L551.32,35.10L550.29,35.79L548.98,36.08L547.22,35.96L546.10,35.45L545.24,34.47L544.75,33.10L544.57,31.09L544.57,22.61L545.11,21.92L546.73,21.75L545.11,21.92L544.61,22.55L544.07,21.92ZM574.15,20.60L573.81,21.29L573.02,21.75L571.94,22.72L570.64,24.56L569.85,26.79L569.45,29.89L569.62,33.84L570.36,36.77L571.55,38.77L572.96,40.15L573.81,40.66L574.15,41.29L573.81,40.66L572.96,40.15L571.55,38.77L570.81,37.68L569.85,35.10L569.45,32.07L569.62,28.05L570.36,25.19L571.55,23.18L573.02,21.75L573.81,21.29ZM585.87,22.09L586.76,22.55L586.87,24.56L586.64,22.38L584.87,21.86L582.99,21.75L581.22,22.04L579.92,22.78L579.33,23.64L579.04,25.25L579.39,26.45L580.28,27.37L581.57,28.05L585.28,29.43L586.46,30.40L587.05,31.67L587.05,32.75L586.64,34.47L585.75,35.50L583.99,36.19L581.75,36.25L579.45,35.68L578.63,35.10L578.51,32.81L578.69,35.22L579.45,35.68L581.04,36.14L583.63,36.25L584.52,36.08L585.75,35.50L586.64,34.47L586.99,33.16L587.05,31.67L586.46,30.40L585.28,29.43L581.57,28.05L580.28,27.37L579.39,26.45L579.04,25.25L579.51,23.30L579.92,22.78L580.92,22.15L582.99,21.75ZM592.97,22.27L592.75,22.44L592.45,24.33L592.75,22.44L593.12,22.21L596.24,21.75L598.09,21.86L599.50,22.21L600.62,22.95L601.06,23.58L601.51,25.53L600.99,27.54L599.87,29.20L597.72,31.09L592.97,34.42L592.52,35.56L602.25,35.62L592.52,35.56L592.97,34.42L597.72,31.09L599.87,29.20L600.99,27.54L601.51,25.53L601.06,23.58L600.62,22.95L599.50,22.21L598.09,21.86L596.24,21.75ZM612.54,21.64L612.10,23.01L611.92,22.78L611.20,23.01L609.76,24.04L609.65,24.27L609.76,24.04L611.20,23.01L611.92,22.78L612.10,23.07L612.10,35.50L611.74,36.08L609.69,36.25L611.74,36.08L612.07,35.56L612.50,36.08L614.45,36.19L612.50,36.08L612.10,35.56L612.10,23.01ZM623.66,28.57L627.74,28.57L629.81,30.29L630.45,32.30L630.31,33.61L629.59,35.05L628.59,35.79L626.74,36.25L624.59,36.25L622.74,35.79L621.74,35.05L621.24,34.19L620.95,33.04L621.09,31.38L622.02,29.72L623.31,28.97ZM623.31,22.09L624.52,21.75L626.88,21.75L628.02,22.09L629.16,22.95L629.81,24.50L629.74,25.99L629.24,27.14L628.02,28.11L627.74,28.57L623.74,28.57L622.16,27.19L621.52,25.48L621.59,24.39L622.09,23.13ZM625.52,21.69L624.52,21.75L623.31,22.09L622.45,22.72L621.81,23.70L621.52,25.48L621.88,26.68L622.38,27.42L623.66,28.51L623.31,28.97L622.02,29.72L621.38,30.63L620.95,32.01L620.95,33.04L621.38,34.47L622.45,35.62L623.81,36.14L626.02,36.31L628.16,35.96L629.31,35.33L630.16,34.07L630.45,32.30L629.81,30.29L627.74,28.57L628.02,28.11L629.09,27.31L629.52,26.62L629.88,25.30L629.52,23.58L628.88,22.67L628.02,22.09L626.88,21.75ZM637.31,28.57L640.69,28.57L642.42,30.29L642.95,32.30L642.83,33.61L642.24,35.05L641.41,35.79L639.86,36.25L638.08,36.25L636.53,35.79L635.70,35.05L635.29,34.19L635.05,33.04L635.17,31.38L635.94,29.72L637.01,28.97ZM637.01,22.09L638.02,21.75L639.98,21.75L640.93,22.09L641.88,22.95L642.42,24.50L642.36,25.99L641.94,27.14L640.93,28.11L640.69,28.57L637.37,28.57L636.06,27.19L635.53,25.48L635.58,24.39L636.00,23.13ZM638.85,21.69L638.02,21.75L637.01,22.09L636.30,22.72L635.76,23.70L635.53,25.48L635.82,26.68L636.24,27.42L637.31,28.51L637.01,28.97L635.94,29.72L635.41,30.63L635.05,32.01L635.05,33.04L635.41,34.47L636.30,35.62L637.43,36.14L639.27,36.31L641.05,35.96L642.00,35.33L642.71,34.07L642.95,32.30L642.42,30.29L640.69,28.57L640.93,28.11L641.82,27.31L642.18,26.62L642.47,25.30L642.18,23.58L641.64,22.67L640.93,22.09L639.98,21.75ZM649.21,22.27L649.01,22.44L648.75,24.33L649.01,22.44L649.34,22.21L652.07,21.75L653.70,21.86L654.94,22.21L655.92,22.95L656.31,23.58L656.70,25.53L656.24,27.54L655.27,29.20L653.38,31.09L649.21,34.42L648.82,35.56L657.35,35.62L648.82,35.56L649.21,34.42L653.38,31.09L655.27,29.20L656.24,27.54L656.70,25.53L656.31,23.58L655.92,22.95L654.94,22.21L653.70,21.86L652.07,21.75ZM662.75,20.60L662.97,21.23L663.83,21.98L664.53,22.84L665.57,24.96L666.09,27.08L666.35,30.35L666.18,34.19L665.53,37.11L664.57,39.06L664.05,39.75L663.01,40.66L662.75,41.24L663.01,40.66L664.05,39.75L664.57,39.06L665.53,37.11L666.09,34.82L666.35,31.55L666.18,27.71L665.57,24.96L664.53,22.84L663.83,21.98L662.97,21.23ZM683.85,21.81L685.54,21.92L686.06,22.55L686.06,35.39L685.50,36.08L683.85,36.19L685.50,36.08L686.01,35.45L686.53,35.96L692.93,35.91L693.35,32.87L692.93,35.91L686.53,35.96L686.06,35.39L686.06,28.91L690.67,28.86L690.81,30.81L690.72,28.63L690.90,26.91L690.67,28.86L686.11,28.86L686.06,22.61L686.58,21.98L692.41,22.09L692.50,24.73L692.36,22.04L686.58,21.98L686.06,22.55L685.54,21.92ZM702.03,21.81L704.40,21.86L706.02,22.61L707.25,24.16L707.96,26.51L708.15,28.34L708.10,30.35L707.53,33.16L706.49,34.99L705.64,35.68L704.50,36.14L703.41,36.31L701.41,36.08L700.32,35.56L699.61,34.93L698.99,34.07L698.47,32.81L698.14,31.32L697.95,29.14L698.00,27.88L698.23,26.11L698.66,24.62L699.09,23.76L699.94,22.72L700.75,22.21ZM702.03,21.81L700.75,22.21L699.94,22.72L699.09,23.76L698.66,24.62L698.23,26.11L698.00,27.88L697.95,29.14L698.14,31.32L698.47,32.81L698.99,34.07L699.61,34.93L700.32,35.56L701.41,36.08L703.41,36.31L704.50,36.14L705.64,35.68L706.49,34.99L707.53,33.16L708.10,30.35L708.15,28.34L707.96,26.51L707.25,24.16L706.02,22.61L704.40,21.86ZM714.75,30.61L725.35,30.56ZM736.82,21.64L736.31,23.01L736.10,22.78L735.26,23.01L733.58,24.04L733.45,24.27L733.58,24.04L735.26,23.01L736.10,22.78L736.31,23.07L736.31,35.50L735.89,36.08L733.49,36.25L735.89,36.08L736.27,35.56L736.78,36.08L739.05,36.19L736.78,36.08L736.31,35.56L736.31,23.01ZM749.44,21.69L750.50,21.75L751.42,22.04L752.98,23.35L753.90,25.59L754.25,28.23L754.04,31.67L753.33,34.01L752.70,34.99L751.99,35.62L750.86,36.14L749.66,36.31L748.10,36.14L747.18,35.73L746.26,34.93L745.34,33.04L744.85,30.23L744.92,26.91L745.70,23.99L746.19,23.13L746.90,22.44L748.10,21.86ZM749.44,21.69L748.10,21.86L746.90,22.44L746.19,23.13L745.70,23.99L744.92,26.91L744.85,30.23L745.34,33.04L746.26,34.93L747.54,35.91L748.38,36.19L749.66,36.31L750.86,36.14L751.99,35.62L752.70,34.99L753.33,34.01L754.04,31.67L754.25,28.23L753.90,25.59L752.98,23.35L751.42,22.04L750.50,21.75ZM769.85,21.81L771.56,21.92L772.08,22.55L772.08,35.39L771.51,36.08L769.85,36.19L771.51,36.08L772.04,35.45L772.56,35.96L779.02,35.91L779.45,32.87L779.02,35.91L772.56,35.96L772.08,35.39L772.08,28.91L776.74,28.86L776.88,30.81L776.79,28.63L776.98,26.91L776.74,28.86L772.13,28.86L772.08,22.61L772.61,21.98L778.50,22.09L778.59,24.73L778.45,22.04L772.61,21.98L772.08,22.55L771.56,21.92ZM795.50,21.75L793.92,22.04L792.12,21.75L793.75,21.92L793.88,22.09L793.75,22.95L790.28,33.67L789.51,34.30L789.15,34.01L785.64,23.18L785.56,22.50L786.00,21.92L787.67,21.75L786.00,21.92L785.60,22.44L784.79,21.92L783.35,21.75L784.79,21.92L785.56,22.50L785.69,23.41L789.15,34.01L789.47,34.36L789.42,36.54L789.47,34.36L790.28,33.67L793.70,23.13L793.84,22.15L794.06,21.92ZM803.47,22.21L805.39,29.03L805.56,30.29L805.22,30.75L800.71,30.75L800.80,29.66L802.55,22.84L802.97,22.38ZM802.68,22.61L800.88,29.32L800.71,30.58L800.46,30.98L799.46,34.82L799.34,35.91L799.13,36.08L797.75,36.25L799.13,36.08L799.34,35.91L799.46,36.08L800.97,36.19L799.46,36.08L799.34,35.91L799.42,34.99L800.55,30.81L805.22,30.75L805.52,30.35L805.77,30.46L806.85,34.65L806.94,35.45L806.48,36.08L804.89,36.25L806.48,36.08L806.90,35.50L807.73,36.08L809.15,36.19L807.73,36.08L806.94,35.45L806.77,34.30L805.77,30.46L805.56,30.29L805.39,29.03L803.60,22.38L803.22,22.21ZM813.75,30.61L825.25,30.56ZM836.18,21.64L835.75,23.01L835.58,22.78L834.87,23.01L833.46,24.04L833.35,24.27L833.46,24.04L834.87,23.01L835.58,22.78L835.75,23.07L835.75,35.50L835.40,36.08L833.39,36.25L835.40,36.08L835.72,35.56L836.14,36.08L838.05,36.19L836.14,36.08L835.75,35.56L835.75,23.01ZM863.19,26.39L863.26,34.87L862.50,35.50L860.28,36.02L858.49,36.14L856.96,35.79L855.58,34.70L854.89,33.10L854.82,30.17L855.17,28.74L855.65,27.83L856.76,26.79L858.14,26.28L859.66,26.16ZM860.28,20.83L862.64,20.95L863.26,21.46L863.33,26.33L858.49,26.22L857.17,26.56L856.13,27.25L855.37,28.28L854.89,29.72L854.75,32.01L855.03,33.56L856.00,35.16L856.62,35.62L857.66,36.02L860.28,36.02L862.50,35.50L863.26,34.93L863.40,35.68L863.88,36.08L865.61,36.25L863.88,36.08L863.40,35.68L863.26,34.93L863.26,21.46L862.64,20.95ZM876.89,27.42L877.37,28.51L877.64,30.17L877.03,30.75L869.95,30.69L870.15,29.14L870.63,27.88L871.11,27.25L872.13,26.51L873.01,26.22L874.98,26.22L876.14,26.68ZM872.40,26.39L871.11,27.25L870.43,28.28L870.15,29.14L869.95,31.84L870.43,34.07L871.45,35.33L872.81,35.96L874.98,36.14L877.64,35.73L878.25,35.28L877.64,35.73L875.73,36.08L873.96,36.14L872.81,35.96L871.45,35.33L870.43,34.07L870.02,32.52L870.02,30.75L877.03,30.75L877.57,30.29L877.98,30.52L877.57,30.12L877.50,29.03L877.09,27.77L876.14,26.68L874.98,26.22L873.01,26.22ZM891.39,26.74L892.44,27.88L892.99,29.77L892.99,32.24L892.44,34.36L891.67,35.45L890.62,36.08L889.13,36.25L886.76,35.96L886.20,35.10L886.20,27.02L889.41,26.33L890.18,26.33ZM884.05,20.83L885.71,20.95L886.20,21.46L886.20,35.10L886.76,35.96L889.46,36.25L890.90,35.96L891.95,35.16L892.77,33.44L893.05,31.72L893.05,30.29L892.61,28.23L892.28,27.60L891.61,26.91L890.18,26.33L888.47,26.45L887.36,26.85L886.26,26.97L886.20,21.46L885.71,20.95ZM905.25,25.93L904.66,26.68L903.29,26.85L900.82,27.60L900.03,27.54L900.03,26.85L899.45,26.33L897.75,26.22L899.45,26.33L900.03,26.85L900.10,35.50L899.38,36.14L897.75,36.25L899.38,36.14L900.03,35.56L900.82,36.14L902.97,36.19L900.82,36.14L900.10,35.56L900.10,27.65L901.47,27.48L903.29,26.85L904.73,26.68L905.12,28.34L904.73,26.56ZM909.30,26.22L910.34,26.33L910.67,26.85L910.67,35.56L910.31,36.14L909.05,36.31L910.31,36.14L910.63,35.62L911.06,36.14L912.25,36.25L911.06,36.14L910.67,35.56L910.67,26.85L910.34,26.33ZM910.45,22.50L910.67,22.50ZM923.10,26.22L924.65,26.68L924.92,28.05L924.51,26.56L923.10,26.22L920.88,26.22L920.00,26.51L919.19,27.14L918.86,27.94L918.79,29.20L919.06,29.72L919.80,30.35L923.17,31.44L924.58,32.35L925.05,33.50L924.78,34.87L923.97,35.79L923.10,36.14L921.21,36.31L919.46,36.08L918.32,35.62L918.12,33.84L918.32,35.62L919.73,36.14L921.21,36.31L923.10,36.14L923.97,35.79L924.78,34.87L925.05,33.50L924.58,32.35L923.17,31.44L919.80,30.35L919.26,29.95L918.79,29.20L918.92,27.71L919.53,26.79L920.88,26.22Z"/>
<path fill="none" stroke-width="1.5" stroke-linejoin="round" stroke-linecap="round" d="M66.79,243.85L66.85,251.16L59.83,251.21L59.71,250.93L60.00,250.19L65.31,244.36ZM67.20,242.88L66.85,243.81L65.31,244.36L60.12,250.05L59.71,250.93L59.83,251.21L59.65,251.30L66.79,251.21L66.79,253.80L66.85,251.25L69.15,251.21L66.85,251.16L66.85,243.76ZM66.79,253.66L66.79,254.35ZM64.43,254.35L69.15,254.35ZM75.90,242.60L76.86,242.65L77.69,242.88L79.10,243.94L79.93,245.75L80.25,247.88L80.06,250.65L79.42,252.55L78.84,253.33L78.20,253.84L77.18,254.26L76.10,254.40L74.69,254.26L73.86,253.93L73.03,253.29L72.20,251.76L71.75,249.49L71.81,246.81L72.52,244.45L72.96,243.76L73.60,243.20L74.69,242.74ZM75.90,242.60L74.69,242.74L73.60,243.20L72.96,243.76L72.52,244.45L71.81,246.81L71.75,249.49L72.20,251.76L73.03,253.29L74.18,254.07L74.95,254.30L76.10,254.40L77.18,254.26L78.20,253.84L78.84,253.33L79.42,252.55L80.06,250.65L80.25,247.88L79.93,245.75L79.10,243.94L77.69,242.88L76.86,242.65ZM87.52,242.60L88.36,242.65L89.09,242.88L90.33,243.94L91.07,245.75L91.35,247.88L91.18,250.65L90.62,252.55L90.11,253.33L89.55,253.84L88.64,254.26L87.68,254.40L86.44,254.26L85.71,253.93L84.98,253.29L84.24,251.76L83.85,249.49L83.91,246.81L84.53,244.45L84.92,243.76L85.49,243.20L86.44,242.74ZM87.52,242.60L86.44,242.74L85.49,243.20L84.92,243.76L84.53,244.45L83.91,246.81L83.85,249.49L84.24,251.76L84.98,253.29L85.99,254.07L86.67,254.30L87.68,254.40L88.64,254.26L89.55,253.84L90.11,253.33L90.62,252.55L91.18,250.65L91.35,247.88L91.07,245.75L90.33,243.94L89.09,242.88L88.36,242.65Z"/>
<path fill="none" stroke-width="1.5" stroke-linejoin="round" stroke-linecap="round" d="M62.72,418.74L61.29,419.15L61.08,420.70L61.34,419.10L62.46,418.79L63.68,418.65L64.85,418.70L66.08,418.97L66.87,419.51L67.35,420.38L67.51,421.20L67.25,422.47L66.71,423.20L66.13,423.60L65.33,423.83L65.06,424.10L63.15,424.15L65.06,424.10L65.33,424.38L66.13,424.51L67.03,424.92L67.88,425.88L68.15,427.15L67.83,428.51L66.98,429.51L65.54,430.06L63.26,430.15L60.97,429.70L60.65,427.88L61.02,429.74L62.78,430.10L64.91,430.15L66.13,429.92L66.98,429.51L67.83,428.51L68.10,427.51L67.94,426.01L67.56,425.38L66.71,424.74L65.33,424.38L65.12,424.15L65.33,423.83L66.45,423.42L67.25,422.47L67.51,421.20L67.09,419.79L66.50,419.20L65.65,418.83L64.32,418.65ZM75.81,418.60L76.74,418.65L77.55,418.88L78.93,419.92L79.74,421.70L80.05,423.79L79.86,426.51L79.24,428.38L78.68,429.15L78.05,429.65L77.05,430.06L75.99,430.20L74.62,430.06L73.81,429.74L73.00,429.10L72.19,427.60L71.75,425.38L71.81,422.74L72.50,420.42L72.94,419.74L73.56,419.20L74.62,418.74ZM75.81,418.60L74.62,418.74L73.56,419.20L72.94,419.74L72.50,420.42L71.81,422.74L71.75,425.38L72.19,427.60L73.00,429.10L74.12,429.88L74.87,430.10L75.99,430.20L77.05,430.06L78.05,429.65L78.68,429.15L79.24,428.38L79.86,426.51L80.05,423.79L79.74,421.70L78.93,419.92L77.55,418.88L76.74,418.65ZM87.52,418.60L88.36,418.65L89.09,418.88L90.33,419.92L91.07,421.70L91.35,423.79L91.18,426.51L90.62,428.38L90.11,429.15L89.55,429.65L88.64,430.06L87.68,430.20L86.44,430.06L85.71,429.74L84.98,429.10L84.24,427.60L83.85,425.38L83.91,422.74L84.53,420.42L84.92,419.74L85.49,419.20L86.44,418.74ZM87.52,418.60L86.44,418.74L85.49,419.20L84.92,419.74L84.53,420.42L83.91,422.74L83.85,425.38L84.24,427.60L84.98,429.10L85.99,429.88L86.67,430.10L87.68,430.20L88.64,430.06L89.55,429.65L90.11,429.15L90.62,428.38L91.18,426.51L91.35,423.79L91.07,421.70L90.33,419.92L89.09,418.88L88.36,418.65Z"/>
<path fill="none" stroke-width="1.5" stroke-linejoin="round" stroke-linecap="round" d="M61.05,596.07L60.88,596.20L60.65,597.73L60.88,596.20L61.16,596.02L63.55,595.65L64.97,595.74L66.05,596.02L66.90,596.62L67.24,597.13L67.58,598.70L67.18,600.32L66.33,601.66L64.68,603.19L61.05,605.87L60.71,606.80L68.15,606.84L60.71,606.80L61.05,605.87L64.68,603.19L66.33,601.66L67.18,600.32L67.58,598.70L67.24,597.13L66.90,596.62L66.05,596.02L64.97,595.74L63.55,595.65ZM75.81,595.60L76.74,595.65L77.55,595.88L78.93,596.94L79.74,598.75L80.05,600.88L79.86,603.65L79.24,605.55L78.68,606.33L78.05,606.84L77.05,607.26L75.99,607.40L74.62,607.26L73.81,606.93L73.00,606.29L72.19,604.76L71.75,602.49L71.81,599.81L72.50,597.45L72.94,596.76L73.56,596.20L74.62,595.74ZM75.81,595.60L74.62,595.74L73.56,596.20L72.94,596.76L72.50,597.45L71.81,599.81L71.75,602.49L72.19,604.76L73.00,606.29L74.12,607.07L74.87,607.30L75.99,607.40L77.05,607.26L78.05,606.84L78.68,606.33L79.24,605.55L79.86,603.65L80.05,600.88L79.74,598.75L78.93,596.94L77.55,595.88L76.74,595.65ZM87.52,595.60L88.36,595.65L89.09,595.88L90.33,596.94L91.07,598.75L91.35,600.88L91.18,603.65L90.62,605.55L90.11,606.33L89.55,606.84L88.64,607.26L87.68,607.40L86.44,607.26L85.71,606.93L84.98,606.29L84.24,604.76L83.85,602.49L83.91,599.81L84.53,597.45L84.92,596.76L85.49,596.20L86.44,595.74ZM87.52,595.60L86.44,595.74L85.49,596.20L84.92,596.76L84.53,597.45L83.91,599.81L83.85,602.49L84.24,604.76L84.98,606.29L85.99,607.07L86.67,607.30L87.68,607.40L88.64,607.26L89.55,606.84L90.11,606.33L90.62,605.55L91.18,603.65L91.35,600.88L91.07,598.75L90.33,596.94L89.09,595.88L88.36,595.65Z"/>
<path fill="none" stroke-width="1.5" stroke-linejoin="round" stroke-linecap="round" d="M131.42,697.36L131.00,698.46L130.83,698.28L130.14,698.46L128.75,699.28L128.65,699.47L128.75,699.28L130.14,698.46L130.83,698.28L131.00,698.50L131.00,708.45L130.66,708.91L128.68,709.05L130.66,708.91L130.97,708.50L131.38,708.91L133.25,709.00L131.38,708.91L131.00,708.50L131.00,698.46ZM140.14,697.95L140.95,697.54L141.94,697.45L142.87,697.63L143.60,698.18L144.15,699.10L144.54,700.43L144.71,701.85L144.71,703.46L143.77,703.50L142.87,703.87L141.38,704.05L140.40,703.82L139.67,703.23L139.16,702.13L139.04,700.57L139.38,699.01ZM142.45,697.50L140.95,697.54L140.14,697.95L139.67,698.46L139.12,699.88L139.04,701.21L139.16,702.13L139.67,703.23L140.10,703.64L140.83,703.96L142.45,703.96L143.77,703.50L144.66,703.46L144.62,705.06L144.41,706.12L143.68,707.77L143.00,708.50L142.36,708.87L141.68,709.05L140.53,709.05L139.29,708.82L139.04,708.50L138.99,707.31L139.12,708.73L140.53,709.05L141.89,709.00L142.87,708.59L143.47,708.04L144.07,707.08L144.41,706.12L144.75,703.41L144.54,700.43L144.15,699.10L143.81,698.46L143.26,697.86ZM152.11,697.95L152.96,697.54L153.99,697.45L154.98,697.63L155.74,698.18L156.32,699.10L156.73,700.43L156.91,701.85L156.91,703.46L155.92,703.50L154.98,703.87L153.41,704.05L152.38,703.82L151.61,703.23L151.07,702.13L150.94,700.57L151.30,699.01ZM154.53,697.50L152.96,697.54L152.11,697.95L151.61,698.46L151.03,699.88L150.94,701.21L151.07,702.13L151.61,703.23L152.06,703.64L152.82,703.96L154.53,703.96L155.92,703.50L156.86,703.46L156.82,705.06L156.59,706.12L155.83,707.77L155.11,708.50L154.44,708.87L153.72,709.05L152.51,709.05L151.21,708.82L150.94,708.50L150.89,707.31L151.03,708.73L152.51,709.05L153.94,709.00L154.98,708.59L155.60,708.04L156.23,707.08L156.59,706.12L156.95,703.41L156.73,700.43L156.32,699.10L155.96,698.46L155.38,697.86ZM162.25,697.86L162.08,698.00L161.85,699.51L162.08,698.00L162.36,697.82L164.75,697.45L166.17,697.54L167.25,697.82L168.10,698.41L168.44,698.92L168.78,700.48L168.38,702.08L167.53,703.41L165.88,704.92L162.25,707.58L161.91,708.50L169.35,708.55L161.91,708.50L162.25,707.58L165.88,704.92L167.53,703.41L168.38,702.08L168.78,700.48L168.44,698.92L168.10,698.41L167.25,697.82L166.17,697.54L164.75,697.45ZM194.05,697.45L192.85,697.59L192.46,698.14L191.58,698.78L189.04,706.53L188.43,707.08L188.30,707.03L188.13,706.67L185.70,698.50L185.34,698.14L185.11,698.14L184.72,697.59L183.55,697.50L184.72,697.59L185.11,698.14L184.82,698.55L184.82,708.73L184.69,708.91L183.55,709.00L184.69,708.91L184.79,708.77L184.92,708.91L186.12,709.00L184.92,708.91L184.82,708.77L184.82,698.55L185.11,698.14L185.34,698.14L185.70,698.50L188.13,706.67L188.39,707.12L188.33,709.10L188.39,707.12L189.04,706.53L191.58,698.78L192.46,698.14L192.49,708.36L192.10,708.91L190.86,709.05L192.10,708.91L192.46,708.41L192.88,708.91L194.02,709.00L192.88,708.91L192.49,708.41L192.46,698.14L192.85,697.59ZM203.82,704.65L203.88,707.77L203.34,708.18L201.54,708.73L200.34,708.91L198.95,708.82L198.23,708.36L197.93,707.90L197.75,706.99L198.05,705.84L198.65,705.20L199.25,704.92L200.28,704.74ZM198.65,701.30L198.29,702.54L198.65,701.30L200.40,700.98L202.02,700.98L202.92,701.26L203.46,701.71L203.76,702.31L203.88,704.60L200.28,704.74L199.25,704.92L198.65,705.20L198.05,705.84L197.75,706.99L197.93,707.90L198.23,708.36L199.13,708.87L200.82,708.87L203.22,708.22L203.88,707.81L204.01,708.55L204.43,708.91L206.05,709.00L204.55,708.96L204.01,708.55L203.88,702.91L203.70,702.13L203.34,701.58L202.92,701.26L202.02,700.98L200.40,700.98ZM216.25,700.80L215.74,701.39L214.55,701.53L212.41,702.13L211.73,702.08L211.73,701.53L211.22,701.12L209.75,701.03L211.22,701.12L211.73,701.53L211.78,708.45L211.16,708.96L209.75,709.05L211.16,708.96L211.73,708.50L212.41,708.96L214.27,709.00L212.41,708.96L211.78,708.50L211.78,702.17L212.97,702.03L214.55,701.53L215.80,701.39L216.14,702.72L215.80,701.30Z"/>
<path fill="none" stroke-width="1.5" stroke-linejoin="round" stroke-linecap="round" d="M336.87,697.82L338.25,703.27L338.37,704.28L338.13,704.65L334.88,704.65L334.94,703.78L336.20,698.32L336.50,697.95ZM336.29,698.14L335.00,703.50L334.88,704.51L334.70,704.83L333.98,707.90L333.89,708.77L333.74,708.91L332.75,709.05L333.74,708.91L333.89,708.77L333.98,708.91L335.06,709.00L333.98,708.91L333.89,708.77L333.95,708.04L334.76,704.69L338.13,704.65L338.34,704.33L338.52,704.42L339.30,707.77L339.36,708.41L339.03,708.91L337.89,709.05L339.03,708.91L339.33,708.45L339.93,708.91L340.95,709.00L339.93,708.91L339.36,708.41L339.24,707.49L338.52,704.42L338.37,704.28L338.25,703.27L336.96,697.95L336.68,697.82ZM350.26,701.39L351.15,702.26L351.66,703.82L351.75,704.97L351.61,706.44L351.05,707.90L350.36,708.64L349.52,709.00L348.45,709.10L346.17,708.91L346.12,701.76L347.80,701.26L349.43,701.12ZM344.59,701.03L345.71,701.12L346.08,701.48L346.12,712.40L345.61,712.86L344.45,712.95L345.61,712.86L346.08,712.44L346.68,712.86L348.12,712.95L346.68,712.86L346.12,712.40L346.12,708.96L349.29,709.05L350.22,708.73L350.77,708.27L351.29,707.45L351.61,706.44L351.75,704.92L351.47,703.00L350.91,701.94L350.26,701.39L349.66,701.16L348.08,701.21L346.12,701.71L346.08,701.48L345.71,701.12ZM363.15,700.80L362.63,701.39L361.40,701.53L359.19,702.13L358.49,702.08L358.49,701.53L357.96,701.12L356.45,701.03L357.96,701.12L358.49,701.53L358.55,708.45L357.91,708.96L356.45,709.05L357.91,708.96L358.49,708.50L359.19,708.96L361.11,709.00L359.19,708.96L358.55,708.50L358.55,702.17L359.77,702.03L361.40,701.53L362.68,701.39L363.03,702.72L362.68,701.30Z"/>
<path fill="none" stroke-width="1.5" stroke-linejoin="round" stroke-linecap="round" d="M512.35,697.45L511.11,697.59L510.71,698.14L509.81,698.78L507.20,706.53L506.57,707.08L506.43,707.03L506.26,706.67L503.76,698.50L503.39,698.14L503.15,698.14L502.75,697.59L501.55,697.50L502.75,697.59L503.15,698.14L502.85,698.55L502.85,708.73L502.72,708.91L501.55,709.00L502.72,708.91L502.82,708.77L502.95,708.91L504.19,709.00L502.95,708.91L502.85,708.77L502.85,698.55L503.15,698.14L503.39,698.14L503.76,698.50L506.26,706.67L506.53,707.12L506.47,709.10L506.53,707.12L507.20,706.53L509.81,698.78L510.71,698.14L510.75,708.36L510.34,708.91L509.07,709.05L510.34,708.91L510.71,708.41L511.15,708.91L512.32,709.00L511.15,708.91L510.75,708.41L510.71,698.14L511.11,697.59ZM521.87,704.65L521.93,707.77L521.38,708.18L519.53,708.73L518.30,708.91L516.88,708.82L516.14,708.36L515.83,707.90L515.65,706.99L515.96,705.84L516.57,705.20L517.19,704.92L518.24,704.74ZM516.57,701.30L516.20,702.54L516.57,701.30L518.36,700.98L520.02,700.98L520.95,701.26L521.50,701.71L521.81,702.31L521.93,704.60L518.24,704.74L517.19,704.92L516.57,705.20L515.96,705.84L515.65,706.99L515.83,707.90L516.14,708.36L517.07,708.87L518.79,708.87L521.26,708.22L521.93,707.81L522.06,708.55L522.49,708.91L524.15,709.00L522.61,708.96L522.06,708.55L521.93,702.91L521.75,702.13L521.38,701.58L520.95,701.26L520.02,700.98L518.36,700.98ZM536.15,700.98L534.84,701.21L533.07,701.03L534.63,701.12L534.79,701.26L534.68,701.85L532.31,707.54L531.50,708.00L531.20,707.77L528.67,701.76L528.67,701.53L529.13,701.12L530.69,700.98L529.13,701.12L528.67,701.53L527.86,701.12L526.75,701.03L527.86,701.12L528.67,701.58L528.77,702.22L531.20,707.77L531.50,708.04L531.35,709.74L530.03,712.03L529.38,712.49L528.82,712.67L527.31,712.63L527.10,712.26L527.00,711.43L527.20,712.53L527.76,712.72L529.18,712.58L530.24,711.80L531.35,709.74L531.50,708.00L532.31,707.54L534.63,701.99L534.73,701.35L534.99,701.12Z"/>
<path fill="none" stroke-width="1.5" stroke-linejoin="round" stroke-linecap="round" d="M684.15,697.45L682.77,697.59L682.30,698.09L681.79,697.59L680.24,697.45L681.79,697.59L682.26,698.09L682.22,705.98L681.92,707.77L681.44,708.59L680.84,708.96L680.11,709.05L678.95,708.82L678.78,708.68L678.65,707.26L678.78,708.68L679.29,708.96L680.84,708.96L681.44,708.59L681.79,708.09L682.09,706.94L682.26,705.38L682.26,698.14L682.77,697.59ZM688.55,701.03L689.82,701.12L690.24,701.53L690.24,706.80L690.43,707.95L690.80,708.50L691.37,708.82L692.12,708.87L694.65,708.36L695.36,708.36L695.88,708.96L697.05,709.00L695.88,708.96L695.41,708.55L695.36,701.53L694.94,701.12L693.48,701.03L694.94,701.12L695.36,701.53L695.36,708.32L694.37,708.41L693.20,708.73L691.56,708.87L691.13,708.73L690.62,708.32L690.33,707.63L690.24,701.53L689.82,701.12ZM701.45,701.03L702.69,701.12L703.13,701.53L703.18,708.45L702.64,708.96L701.45,709.05L702.64,708.96L703.13,708.50L703.72,708.96L705.01,709.00L703.72,708.96L703.18,708.50L703.18,701.99L703.48,701.71L706.84,701.16L707.73,701.44L708.37,702.31L708.52,703.59L708.52,708.45L707.98,708.96L706.69,709.05L707.98,708.96L708.47,708.50L709.01,708.96L710.25,709.00L709.01,708.96L708.52,708.50L708.47,702.91L708.27,702.08L707.73,701.44L707.04,701.16L706.39,701.21L704.32,701.67L703.48,701.71L703.18,701.94L703.13,701.53L702.69,701.12Z"/>
<path fill="none" stroke-width="1.5" stroke-linejoin="round" stroke-linecap="round" d="M858.25,697.45L856.88,697.59L856.40,698.09L855.89,697.59L854.34,697.45L855.89,697.59L856.36,698.09L856.32,705.98L856.02,707.77L855.54,708.59L854.94,708.96L854.21,709.05L853.05,708.82L852.88,708.68L852.75,707.26L852.88,708.68L853.39,708.96L854.94,708.96L855.54,708.59L855.89,708.09L856.19,706.94L856.36,705.38L856.36,698.14L856.88,697.59ZM862.75,701.03L864.00,701.12L864.42,701.53L864.42,706.80L864.61,707.95L864.98,708.50L865.53,708.82L866.28,708.87L868.78,708.36L869.48,708.36L869.99,708.96L871.15,709.00L869.99,708.96L869.53,708.55L869.48,701.53L869.06,701.12L867.62,701.03L869.06,701.12L869.48,701.53L869.48,708.32L868.50,708.41L867.34,708.73L865.72,708.87L865.30,708.73L864.79,708.32L864.51,707.63L864.42,701.53L864.00,701.12ZM875.05,696.72L876.29,696.81L876.65,697.27L876.65,708.45L876.25,708.96L875.05,709.05L876.25,708.96L876.61,708.50L877.05,708.96L878.18,709.05L877.05,708.96L876.65,708.50L876.65,697.27L876.29,696.81Z"/>
<path fill="none" stroke-width="1.5" stroke-linejoin="round" stroke-linecap="round" d="M479.65,723.78L482.58,723.78L484.41,724.18L486.01,725.22L487.02,726.67L487.38,727.65L487.70,729.44L487.75,731.51L487.57,733.30L487.11,734.98L486.56,736.07L485.42,737.23L484.46,737.69L483.40,737.92L479.60,737.86L479.15,737.28L479.15,724.42ZM477.00,723.61L478.64,723.72L479.15,724.36L479.15,737.28L478.60,737.98L476.95,738.15L478.60,737.98L479.10,737.34L479.60,737.86L483.40,737.92L485.00,737.46L486.15,736.59L486.93,735.38L487.34,734.28L487.75,731.51L487.57,728.46L487.25,727.24L486.70,726.09L485.55,724.82L483.72,723.95L482.58,723.78L479.65,723.78L479.15,724.36L478.64,723.72ZM499.53,732.61L499.60,736.53L498.98,737.05L496.94,737.75L495.58,737.98L494.01,737.86L493.19,737.28L492.85,736.71L492.65,735.55L492.99,734.11L493.67,733.30L494.35,732.96L495.51,732.73ZM493.67,728.40L493.26,729.96L493.67,728.40L495.65,727.99L497.49,727.99L498.51,728.34L499.12,728.92L499.46,729.67L499.60,732.55L495.51,732.73L494.35,732.96L493.67,733.30L492.99,734.11L492.65,735.55L492.85,736.71L493.19,737.28L494.22,737.92L496.12,737.92L498.85,737.11L499.60,736.59L499.73,737.52L500.21,737.98L502.05,738.09L500.35,738.03L499.73,737.52L499.60,730.42L499.39,729.44L498.98,728.74L498.51,728.34L497.49,727.99L495.65,727.99ZM508.71,725.69L508.42,728.57L508.22,728.28L507.35,728.46L508.22,728.28L508.39,728.63L508.39,735.78L508.57,737.34L508.97,737.98L509.76,737.92L510.08,737.75L510.25,737.40L509.99,737.80L509.12,738.03L508.77,737.80L508.57,737.34L508.45,736.71L508.42,728.40L508.68,728.22L509.87,728.22L508.45,728.22ZM523.87,729.26L524.37,730.36L524.65,732.03L524.01,732.61L516.55,732.55L516.77,730.99L517.27,729.72L517.77,729.09L518.85,728.34L519.78,728.05L521.86,728.05L523.08,728.51ZM519.13,728.22L517.77,729.09L517.05,730.13L516.77,730.99L516.55,733.71L517.05,735.96L518.13,737.23L519.56,737.86L521.86,738.03L524.65,737.63L525.30,737.17L524.65,737.63L522.65,737.98L520.78,738.03L519.56,737.86L518.13,737.23L517.05,735.96L516.62,734.40L516.62,732.61L524.01,732.61L524.58,732.15L525.01,732.38L524.58,731.98L524.51,730.88L524.08,729.61L523.08,728.51L521.86,728.05L519.78,728.05ZM545.15,722.40L544.82,723.09L544.04,723.55L542.99,724.53L541.71,726.38L540.94,728.63L540.55,731.74L540.72,735.73L541.44,738.67L542.60,740.69L543.99,742.07L544.82,742.59L545.15,743.23L544.82,742.59L543.99,742.07L542.60,740.69L541.88,739.59L540.94,737.00L540.55,733.94L540.72,729.90L541.44,727.01L542.60,724.99L544.04,723.55L544.82,723.09ZM551.15,723.55L552.68,723.72L553.14,724.36L553.18,733.82L553.31,734.98L553.78,736.36L554.58,737.34L555.13,737.69L556.15,737.98L558.01,737.86L558.65,737.63L559.50,737.00L560.17,735.90L560.56,734.17L560.60,723.90L560.72,723.72L562.25,723.55L560.64,723.84L558.90,723.55L560.47,723.72L560.60,723.90L560.51,734.57L560.17,735.90L559.50,737.00L558.52,737.69L557.29,737.98L555.64,737.86L554.58,737.34L553.78,736.36L553.31,734.98L553.14,732.96L553.14,724.42L553.65,723.72L555.17,723.55L553.65,723.72L553.18,724.36L552.68,723.72ZM565.68,723.84L565.45,726.49L565.68,723.84L570.08,723.78L570.55,724.36L570.55,737.28L569.99,737.98L567.93,738.15L569.99,737.98L570.50,737.34L571.16,737.98L573.12,738.09L571.16,737.98L570.55,737.28L570.55,724.42L571.06,723.78L574.48,723.78L575.56,723.95L575.60,726.49L575.60,724.59L575.46,723.84L571.06,723.78L570.60,724.36L570.08,723.78ZM582.72,724.01L584.17,723.61L585.73,723.55L587.34,723.72L588.95,724.18L589.20,724.42L589.40,726.55L589.20,724.42L588.95,724.18L587.34,723.72L585.73,723.55L583.82,723.67L582.46,724.13L581.41,724.88L580.20,726.67L579.55,729.38L579.55,732.44L579.85,734.00L580.40,735.44L581.66,737.05L582.77,737.75L583.92,738.09L586.99,738.09L589.30,737.34L589.65,734.69L589.30,737.34L588.39,737.75L586.53,738.15L584.83,738.21L582.77,737.75L581.66,737.05L580.40,735.44L579.85,734.00L579.55,732.44L579.45,730.88L579.75,728.17L580.20,726.67L580.86,725.51L581.66,724.65ZM593.55,722.40L593.85,723.03L595.04,723.78L596.00,724.65L597.43,726.78L598.14,728.92L598.50,732.21L598.26,736.07L597.37,739.02L596.05,740.98L595.34,741.67L593.91,742.59L593.55,743.17L593.91,742.59L595.34,741.67L596.05,740.98L597.37,739.02L598.14,736.71L598.50,733.42L598.26,729.55L597.43,726.78L596.00,724.65L595.04,723.78L593.85,723.03Z"/>
<g transform="translate(21.9,500) rotate(-90)"><path fill="none" stroke-width="1.5" stroke-linejoin="round" stroke-linecap="round" d="M6.05,-14.84L7.65,-14.73L8.14,-14.12L8.14,-1.59L7.61,-0.92L6.05,-0.81L7.61,-0.92L8.10,-1.53L8.72,-0.92L10.28,-0.86L8.72,-0.92L8.14,-1.59L8.19,-8.08L15.27,-8.08L15.31,-1.59L14.78,-0.92L13.13,-0.75L14.78,-0.92L15.27,-1.53L15.85,-0.92L17.41,-0.81L15.85,-0.92L15.31,-1.59L15.31,-14.06L15.85,-14.73L17.45,-14.90L15.85,-14.73L15.36,-14.12L14.82,-14.73L13.22,-14.90L14.82,-14.73L15.31,-14.12L15.27,-8.08L8.19,-8.08L8.14,-14.06L8.68,-14.73L10.28,-14.90L8.68,-14.73L8.19,-14.12L7.65,-14.73ZM28.65,-9.36L29.11,-8.30L29.37,-6.68L28.78,-6.12L22.05,-6.18L22.24,-7.69L22.70,-8.92L23.15,-9.53L24.12,-10.26L24.96,-10.54L26.84,-10.54L27.94,-10.09ZM24.38,-10.37L23.15,-9.53L22.50,-8.52L22.24,-7.69L22.05,-5.06L22.50,-2.88L23.47,-1.64L24.77,-1.03L26.84,-0.86L29.37,-1.25L29.95,-1.70L29.37,-1.25L27.55,-0.92L25.87,-0.86L24.77,-1.03L23.47,-1.64L22.50,-2.88L22.11,-4.39L22.11,-6.12L28.78,-6.12L29.30,-6.57L29.69,-6.34L29.30,-6.73L29.24,-7.80L28.85,-9.03L27.94,-10.09L26.84,-10.54L24.96,-10.54ZM35.44,-10.54L35.84,-10.43L35.96,-9.92L35.96,-1.42L35.82,-0.86L35.35,-0.69L35.82,-0.86L35.94,-1.37L36.11,-0.86L36.55,-0.75L36.11,-0.86L35.96,-1.42L35.96,-9.92L35.84,-10.43ZM35.88,-14.17L35.96,-14.17ZM42.35,1.65L42.71,0.54L43.96,-1.31L48.60,-1.20L49.12,-0.97L49.75,-0.13L49.75,1.32L49.28,2.49L48.39,3.28L47.14,3.72L44.64,3.84L43.50,3.56L42.92,3.22L42.56,2.77ZM44.28,-10.37L45.11,-10.59L46.36,-10.59L48.13,-9.98L48.55,-8.08L48.55,-7.01L48.13,-5.56L47.40,-4.72L46.52,-4.39L44.59,-4.44L43.96,-4.61L43.18,-5.62L42.82,-7.13L42.98,-8.69L43.50,-9.75ZM49.80,-11.54L48.44,-10.48L48.13,-10.03L46.36,-10.59L45.11,-10.59L44.28,-10.37L43.50,-9.75L43.03,-8.92L42.82,-7.74L42.92,-6.40L43.18,-5.62L43.91,-4.61L43.70,-3.94L43.13,-3.10L42.87,-2.04L43.34,-1.59L43.96,-1.31L42.71,0.54L42.40,1.38L42.35,2.10L42.66,2.94L43.50,3.56L44.64,3.84L47.14,3.72L48.65,3.11L49.54,2.05L49.85,0.48L49.59,-0.47L49.12,-0.97L47.77,-1.31L44.02,-1.31L43.03,-1.81L42.87,-2.20L43.13,-3.10L43.70,-3.94L43.91,-4.61L45.42,-4.33L46.52,-4.39L47.40,-4.72L47.98,-5.28L48.44,-6.40L48.60,-7.52L48.13,-10.03L48.44,-10.48ZM55.75,-15.79L57.41,-15.68L57.97,-15.12L57.97,-1.48L57.36,-0.86L55.97,-0.75L57.36,-0.86L57.91,-1.42L58.58,-0.86L60.02,-0.81L58.58,-0.86L57.97,-1.42L57.97,-9.64L62.12,-10.37L63.07,-10.09L63.57,-9.59L63.84,-8.97L63.95,-1.42L63.40,-0.86L61.96,-0.75L63.40,-0.86L63.90,-1.37L64.56,-0.86L65.95,-0.81L64.56,-0.86L63.95,-1.42L63.95,-8.19L63.57,-9.59L63.07,-10.09L62.35,-10.37L60.41,-10.15L58.91,-9.70L57.97,-9.70L57.97,-15.12L57.41,-15.68ZM74.12,-12.83L73.53,-10.03L73.12,-10.31L71.35,-10.15L73.12,-10.31L73.47,-9.98L73.47,-3.04L73.83,-1.53L74.65,-0.92L76.25,-0.97L76.90,-1.14L77.25,-1.48L76.72,-1.09L74.95,-0.86L74.24,-1.09L73.83,-1.53L73.59,-2.15L73.53,-10.20L74.06,-10.37L76.48,-10.37L73.59,-10.37ZM96.75,-16.02L96.46,-15.35L95.79,-14.90L94.87,-13.95L93.76,-12.16L93.09,-9.98L92.75,-6.96L92.89,-3.10L93.52,-0.25L94.53,1.71L95.74,3.05L96.46,3.56L96.75,4.17L96.46,3.56L95.74,3.05L94.53,1.71L93.91,0.65L93.09,-1.87L92.75,-4.83L92.89,-8.75L93.52,-11.54L94.53,-13.50L95.79,-14.90L96.46,-15.35ZM101.95,-15.79L103.34,-15.68L103.76,-15.18L103.76,-1.42L103.30,-0.86L102.14,-0.75L103.30,-0.86L103.72,-1.37L104.27,-0.86L105.30,-0.81L104.27,-0.86L103.76,-1.42L103.76,-4.83L104.79,-5.17L105.39,-5.95L106.13,-6.29L108.55,-1.81L108.64,-1.37L108.23,-0.86L107.39,-0.75L108.23,-0.86L108.60,-1.31L109.48,-0.86L110.55,-0.81L109.48,-0.86L108.60,-1.42L108.46,-2.09L106.23,-6.23L106.41,-7.29L108.27,-9.70L108.46,-10.31L109.99,-10.59L108.55,-10.31L107.30,-10.54L108.32,-10.43L108.41,-10.15L108.27,-9.70L106.41,-7.29L106.23,-6.34L105.39,-5.95L104.79,-5.17L103.81,-4.89L103.76,-15.18L103.34,-15.68ZM114.05,-10.54L115.91,-10.43L116.46,-9.98L116.53,-1.42L115.84,-0.86L114.05,-0.75L115.84,-0.86L116.46,-1.37L117.29,-0.86L119.36,-0.81L117.29,-0.86L116.53,-1.42L116.53,-9.59L118.05,-9.70L119.50,-10.09L121.29,-10.31L122.46,-10.20L123.08,-9.92L123.91,-8.97L123.98,-1.42L123.29,-0.86L121.29,-0.75L123.29,-0.86L123.91,-1.37L124.74,-0.86L126.81,-0.81L124.74,-0.86L123.98,-1.42L123.91,-8.97L124.67,-9.59L128.88,-10.31L129.84,-10.26L130.53,-9.98L131.02,-9.59L131.36,-8.92L131.50,-1.42L130.81,-0.86L128.67,-0.69L130.81,-0.86L131.43,-1.37L132.26,-0.86L134.05,-0.81L132.26,-0.86L131.50,-1.42L131.50,-8.19L131.22,-9.25L130.33,-10.09L129.50,-10.31L127.29,-10.15L124.67,-9.59L123.84,-9.03L123.08,-9.92L121.91,-10.31L119.84,-10.15L118.05,-9.70L116.60,-9.64L115.91,-10.43ZM139.05,-16.02L139.31,-15.40L140.35,-14.68L141.17,-13.84L142.42,-11.77L143.04,-9.70L143.35,-6.51L143.14,-2.76L142.37,0.09L141.23,1.99L140.60,2.66L139.36,3.56L139.05,4.12L139.36,3.56L140.60,2.66L141.23,1.99L142.37,0.09L143.04,-2.15L143.35,-5.34L143.14,-9.08L142.42,-11.77L141.17,-13.84L140.35,-14.68L139.31,-15.40Z"/></g>
</g>
</svg>
</body></html>
